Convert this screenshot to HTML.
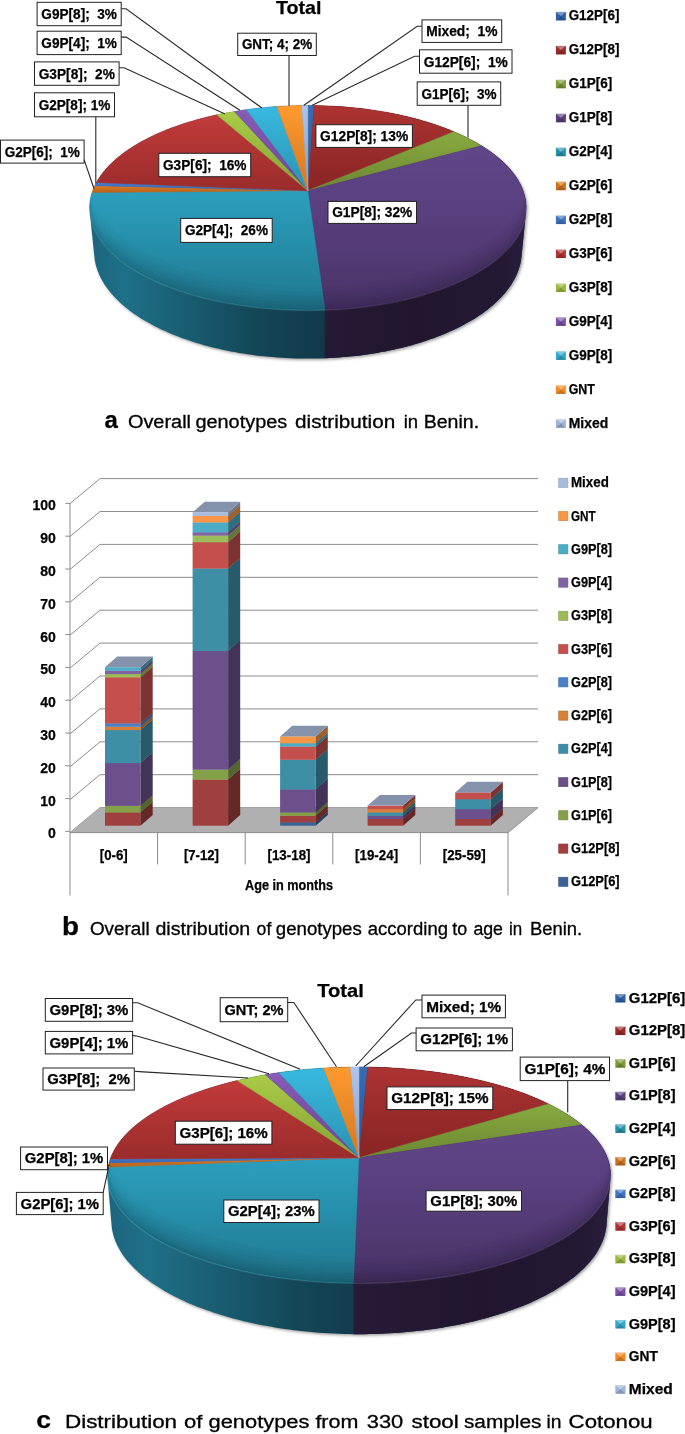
<!DOCTYPE html>
<html lang="en">
<head>
<meta charset="utf-8">
<title>Genotype distribution figures</title>
<style>
html,body{margin:0;padding:0;background:#fff;}
body{width:685px;height:1434px;overflow:hidden;}
svg{display:block;font-family:"Liberation Sans",sans-serif;}
</style>
</head>
<body>
<svg width="685" height="1434" viewBox="0 0 685 1434">
<defs>
<filter id="blur" x="-5%" y="-5%" width="110%" height="110%"><feGaussianBlur stdDeviation="1.6"/></filter>
<linearGradient id="p1sh" x1="0" y1="0" x2="0" y2="1"><stop offset="0" stop-color="#fff" stop-opacity="0.02"/><stop offset="0.5" stop-color="#000" stop-opacity="0"/><stop offset="1" stop-color="#000" stop-opacity="0.05"/></linearGradient>
<linearGradient id="p1sT" gradientUnits="userSpaceOnUse" x1="89.6" y1="0" x2="325.9" y2="0"><stop offset="0" stop-color="#1c667e"/><stop offset="0.15" stop-color="#1e7088"/><stop offset="0.45" stop-color="#185a6e"/><stop offset="0.72" stop-color="#134656"/><stop offset="1" stop-color="#11394a"/></linearGradient>
<linearGradient id="p1sP" gradientUnits="userSpaceOnUse" x1="317.9" y1="0" x2="526.2" y2="0"><stop offset="0" stop-color="#261a37"/><stop offset="0.45" stop-color="#21162e"/><stop offset="0.9" stop-color="#241934"/><stop offset="1" stop-color="#2a1e3f"/></linearGradient>
<clipPath id="p1cl"><polygon points="327.4,9.7 735,9.7 735,609.7 322.5,609.7"/></clipPath>
<linearGradient id="p1g0" x1="0" y1="0" x2="0" y2="1"><stop offset="0" stop-color="#336bb5"/><stop offset="1" stop-color="#295590"/></linearGradient>
<linearGradient id="p1g1" x1="0" y1="0" x2="0" y2="1"><stop offset="0" stop-color="#ac2f2f"/><stop offset="1" stop-color="#892525"/></linearGradient>
<linearGradient id="p1g2" x1="0" y1="0" x2="0" y2="1"><stop offset="0" stop-color="#88aa3f"/><stop offset="1" stop-color="#6d8832"/></linearGradient>
<linearGradient id="p1g3" x1="0" y1="0" x2="0" y2="1"><stop offset="0" stop-color="#614589"/><stop offset="1" stop-color="#4d376e"/></linearGradient>
<linearGradient id="p1g4" x1="0" y1="0" x2="0" y2="1"><stop offset="0" stop-color="#2b9fbe"/><stop offset="1" stop-color="#227f97"/></linearGradient>
<linearGradient id="p1g5" x1="0" y1="0" x2="0" y2="1"><stop offset="0" stop-color="#e37b22"/><stop offset="1" stop-color="#b5621b"/></linearGradient>
<linearGradient id="p1g6" x1="0" y1="0" x2="0" y2="1"><stop offset="0" stop-color="#457ed6"/><stop offset="1" stop-color="#3765ab"/></linearGradient>
<linearGradient id="p1g7" x1="0" y1="0" x2="0" y2="1"><stop offset="0" stop-color="#c23838"/><stop offset="1" stop-color="#9b2c2c"/></linearGradient>
<linearGradient id="p1g8" x1="0" y1="0" x2="0" y2="1"><stop offset="0" stop-color="#a8cb44"/><stop offset="1" stop-color="#86a236"/></linearGradient>
<linearGradient id="p1g9" x1="0" y1="0" x2="0" y2="1"><stop offset="0" stop-color="#8659b7"/><stop offset="1" stop-color="#6b4792"/></linearGradient>
<linearGradient id="p1g10" x1="0" y1="0" x2="0" y2="1"><stop offset="0" stop-color="#35b8df"/><stop offset="1" stop-color="#2b93b2"/></linearGradient>
<linearGradient id="p1g11" x1="0" y1="0" x2="0" y2="1"><stop offset="0" stop-color="#ff982b"/><stop offset="1" stop-color="#d37922"/></linearGradient>
<linearGradient id="p1g12" x1="0" y1="0" x2="0" y2="1"><stop offset="0" stop-color="#adc4f0"/><stop offset="1" stop-color="#8a9dbf"/></linearGradient>
<clipPath id="p1ct"><ellipse cx="307.9" cy="207.8" rx="218.3" ry="102.2"/></clipPath>
<linearGradient id="p2sh" x1="0" y1="0" x2="0" y2="1"><stop offset="0" stop-color="#fff" stop-opacity="0.02"/><stop offset="0.5" stop-color="#000" stop-opacity="0"/><stop offset="1" stop-color="#000" stop-opacity="0.05"/></linearGradient>
<linearGradient id="p2sT" gradientUnits="userSpaceOnUse" x1="107.5" y1="0" x2="377" y2="0"><stop offset="0" stop-color="#1c667e"/><stop offset="0.15" stop-color="#1e7088"/><stop offset="0.45" stop-color="#185a6e"/><stop offset="0.72" stop-color="#134656"/><stop offset="1" stop-color="#11394a"/></linearGradient>
<linearGradient id="p2sP" gradientUnits="userSpaceOnUse" x1="369" y1="0" x2="610.5" y2="0"><stop offset="0" stop-color="#261a37"/><stop offset="0.45" stop-color="#21162e"/><stop offset="0.9" stop-color="#241934"/><stop offset="1" stop-color="#2a1e3f"/></linearGradient>
<clipPath id="p2cl"><polygon points="352.8,982.9 735,982.9 735,1582.9 354,1582.9"/></clipPath>
<linearGradient id="p2g0" x1="0" y1="0" x2="0" y2="1"><stop offset="0" stop-color="#336bb5"/><stop offset="1" stop-color="#295590"/></linearGradient>
<linearGradient id="p2g1" x1="0" y1="0" x2="0" y2="1"><stop offset="0" stop-color="#ac2f2f"/><stop offset="1" stop-color="#892525"/></linearGradient>
<linearGradient id="p2g2" x1="0" y1="0" x2="0" y2="1"><stop offset="0" stop-color="#88aa3f"/><stop offset="1" stop-color="#6d8832"/></linearGradient>
<linearGradient id="p2g3" x1="0" y1="0" x2="0" y2="1"><stop offset="0" stop-color="#614589"/><stop offset="1" stop-color="#4d376e"/></linearGradient>
<linearGradient id="p2g4" x1="0" y1="0" x2="0" y2="1"><stop offset="0" stop-color="#2b9fbe"/><stop offset="1" stop-color="#227f97"/></linearGradient>
<linearGradient id="p2g5" x1="0" y1="0" x2="0" y2="1"><stop offset="0" stop-color="#e37b22"/><stop offset="1" stop-color="#b5621b"/></linearGradient>
<linearGradient id="p2g6" x1="0" y1="0" x2="0" y2="1"><stop offset="0" stop-color="#457ed6"/><stop offset="1" stop-color="#3765ab"/></linearGradient>
<linearGradient id="p2g7" x1="0" y1="0" x2="0" y2="1"><stop offset="0" stop-color="#c23838"/><stop offset="1" stop-color="#9b2c2c"/></linearGradient>
<linearGradient id="p2g8" x1="0" y1="0" x2="0" y2="1"><stop offset="0" stop-color="#a8cb44"/><stop offset="1" stop-color="#86a236"/></linearGradient>
<linearGradient id="p2g9" x1="0" y1="0" x2="0" y2="1"><stop offset="0" stop-color="#8659b7"/><stop offset="1" stop-color="#6b4792"/></linearGradient>
<linearGradient id="p2g10" x1="0" y1="0" x2="0" y2="1"><stop offset="0" stop-color="#35b8df"/><stop offset="1" stop-color="#2b93b2"/></linearGradient>
<linearGradient id="p2g11" x1="0" y1="0" x2="0" y2="1"><stop offset="0" stop-color="#ff982b"/><stop offset="1" stop-color="#d37922"/></linearGradient>
<linearGradient id="p2g12" x1="0" y1="0" x2="0" y2="1"><stop offset="0" stop-color="#adc4f0"/><stop offset="1" stop-color="#8a9dbf"/></linearGradient>
<clipPath id="p2ct"><ellipse cx="359" cy="1175" rx="251.5" ry="108"/></clipPath>
</defs>
<rect width="685" height="1434" fill="#fff"/>
<g id="p1">
<polygon fill="#000" fill-opacity="0.38" filter="url(#blur)" transform="translate(1.5,1.5)" points="89.7,206.7 89.7,204.9 89.9,203.1 90.1,201.3 90.4,199.5 90.7,197.7 91.1,195.9 91.6,194.2 92.1,192.4 92.7,190.7 93.4,189 94.1,187.2 94.8,185.5 95.7,183.8 96.6,182.2 97.5,180.5 98.6,178.8 99.6,177.2 100.8,175.6 101.9,173.9 103.2,172.3 104.5,170.7 105.8,169.2 107.2,167.6 108.6,166 110.1,164.5 111.7,163 113.3,161.5 114.9,160 116.6,158.5 118.3,157.1 120.1,155.7 121.9,154.2 123.8,152.8 125.7,151.5 127.7,150.1 129.7,148.8 131.7,147.4 133.8,146.1 135.9,144.8 138,143.6 140.2,142.3 142.4,141.1 144.7,139.9 147,138.7 149.3,137.5 151.7,136.3 154.1,135.2 156.6,134.1 159,133 161.5,131.9 164,130.9 166.6,129.8 169.2,128.8 171.8,127.8 174.4,126.9 177.1,125.9 179.8,125 182.5,124.1 185.2,123.2 188,122.3 190.8,121.5 193.6,120.7 196.4,119.8 199.3,119.1 202.2,118.3 205.1,117.6 208,116.8 210.9,116.2 213.9,115.5 216.8,114.8 219.8,114.2 222.8,113.6 225.9,113 228.9,112.4 231.9,111.9 235,111.4 238.1,110.9 241.2,110.4 244.3,110 247.4,109.5 250.5,109.1 253.6,108.7 256.8,108.3 259.9,108 263.1,107.7 266.3,107.4 269.4,107.1 272.6,106.8 275.8,106.6 279,106.4 282.2,106.2 285.4,106 288.6,105.9 291.8,105.8 295,105.7 298.2,105.6 301.5,105.5 304.7,105.5 307.9,105.5 311.1,105.5 314.3,105.5 317.6,105.6 320.8,105.7 324,105.8 327.2,105.9 330.4,106 333.6,106.2 336.8,106.4 340,106.6 343.2,106.8 346.4,107.1 349.5,107.4 352.7,107.7 355.9,108 359,108.3 362.2,108.7 365.3,109.1 368.4,109.5 371.5,110 374.6,110.4 377.7,110.9 380.8,111.4 383.9,111.9 386.9,112.4 389.9,113 393,113.6 396,114.2 398.9,114.8 401.9,115.5 404.9,116.2 407.8,116.8 410.7,117.6 413.6,118.3 416.5,119.1 419.4,119.8 422.2,120.7 425,121.5 427.8,122.3 430.6,123.2 433.3,124.1 436,125 438.7,125.9 441.4,126.9 444,127.8 446.6,128.8 449.2,129.8 451.8,130.9 454.3,131.9 456.8,133 459.2,134.1 461.7,135.2 464.1,136.3 466.5,137.5 468.8,138.7 471.1,139.9 473.4,141.1 475.6,142.3 477.8,143.6 479.9,144.8 482,146.1 484.1,147.4 486.1,148.8 488.1,150.1 490.1,151.5 492,152.8 493.9,154.2 495.7,155.7 497.5,157.1 499.2,158.5 500.9,160 502.5,161.5 504.1,163 505.7,164.5 507.2,166 508.6,167.6 510,169.2 511.3,170.7 512.6,172.3 513.9,173.9 515,175.6 516.2,177.2 517.2,178.8 518.2,180.5 519.2,182.2 520.1,183.8 521,185.5 521.7,187.2 522.4,189 523.1,190.7 523.7,192.4 524.2,194.2 524.7,195.9 525.1,197.7 525.4,199.5 525.7,201.3 525.9,203.1 526.1,204.9 526.1,206.7 526.1,208.5 526.1,210.3 526,212.1 521.5,256.2 521.3,258.1 521.1,260 520.7,261.9 520.3,263.9 519.8,265.8 519.2,267.7 518.6,269.6 517.9,271.5 517.1,273.5 516.3,275.4 515.4,277.3 514.4,279.2 513.3,281.1 512.2,283 511,284.9 509.7,286.8 508.3,288.7 506.9,290.6 505.4,292.4 503.8,294.3 502.1,296.2 500.4,298 498.6,299.8 496.8,301.6 494.8,303.4 492.8,305.2 490.7,307 488.5,308.7 486.3,310.5 484,312.2 481.6,313.9 479.1,315.6 476.6,317.2 474,318.9 471.3,320.5 468.6,322.1 465.8,323.6 462.9,325.2 460,326.7 457,328.2 453.9,329.7 450.8,331.1 447.6,332.5 444.4,333.9 441.1,335.2 437.7,336.6 434.3,337.9 430.8,339.1 427.3,340.3 423.7,341.5 420,342.7 416.3,343.8 412.6,344.9 408.8,345.9 404.9,346.9 401.1,347.9 397.1,348.8 393.2,349.7 389.2,350.6 385.1,351.4 381,352.1 376.9,352.9 372.8,353.6 368.6,354.2 364.4,354.8 360.1,355.4 355.9,355.9 351.6,356.3 347.3,356.8 342.9,357.1 338.6,357.5 334.2,357.8 329.9,358 325.5,358.2 321.1,358.4 316.7,358.5 312.3,358.6 307.9,358.6 303.5,358.6 299.1,358.5 294.7,358.4 290.3,358.2 285.9,358 281.6,357.8 277.2,357.5 272.9,357.1 268.5,356.8 264.2,356.3 259.9,355.9 255.7,355.4 251.4,354.8 247.2,354.2 243.1,353.6 238.9,352.9 234.8,352.1 230.7,351.4 226.6,350.6 222.6,349.7 218.7,348.8 214.7,347.9 210.8,346.9 207,345.9 203.2,344.9 199.5,343.8 195.8,342.7 192.1,341.5 188.5,340.3 185,339.1 181.5,337.9 178.1,336.6 174.7,335.2 171.4,333.9 168.2,332.5 165,331.1 161.8,329.7 158.8,328.2 155.8,326.7 152.8,325.2 150,323.6 147.2,322.1 144.5,320.5 141.8,318.9 139.2,317.2 136.7,315.6 134.2,313.9 131.8,312.2 129.5,310.5 127.3,308.7 125.1,307 123,305.2 121,303.4 119,301.6 117.2,299.8 115.4,298 113.7,296.2 112,294.3 110.4,292.4 108.9,290.6 107.5,288.7 106.1,286.8 104.8,284.9 103.6,283 102.5,281.1 101.4,279.2 100.4,277.3 99.5,275.4 98.7,273.5 97.9,271.5 97.2,269.6 96.6,267.7 96,265.8 95.5,263.9 95.1,261.9 94.7,260 94.5,258.1 94.3,256.2 89.8,212.1 89.7,210.3 89.7,208.5"/>
<polygon fill="url(#p1sT)" points="89.7,206.7 89.7,204.9 89.9,203.1 90.1,201.3 90.4,199.5 90.7,197.7 91.1,195.9 91.6,194.2 92.1,192.4 92.7,190.7 93.4,189 94.1,187.2 94.8,185.5 95.7,183.8 96.6,182.2 97.5,180.5 98.6,178.8 99.6,177.2 100.8,175.6 101.9,173.9 103.2,172.3 104.5,170.7 105.8,169.2 107.2,167.6 108.6,166 110.1,164.5 111.7,163 113.3,161.5 114.9,160 116.6,158.5 118.3,157.1 120.1,155.7 121.9,154.2 123.8,152.8 125.7,151.5 127.7,150.1 129.7,148.8 131.7,147.4 133.8,146.1 135.9,144.8 138,143.6 140.2,142.3 142.4,141.1 144.7,139.9 147,138.7 149.3,137.5 151.7,136.3 154.1,135.2 156.6,134.1 159,133 161.5,131.9 164,130.9 166.6,129.8 169.2,128.8 171.8,127.8 174.4,126.9 177.1,125.9 179.8,125 182.5,124.1 185.2,123.2 188,122.3 190.8,121.5 193.6,120.7 196.4,119.8 199.3,119.1 202.2,118.3 205.1,117.6 208,116.8 210.9,116.2 213.9,115.5 216.8,114.8 219.8,114.2 222.8,113.6 225.9,113 228.9,112.4 231.9,111.9 235,111.4 238.1,110.9 241.2,110.4 244.3,110 247.4,109.5 250.5,109.1 253.6,108.7 256.8,108.3 259.9,108 263.1,107.7 266.3,107.4 269.4,107.1 272.6,106.8 275.8,106.6 279,106.4 282.2,106.2 285.4,106 288.6,105.9 291.8,105.8 295,105.7 298.2,105.6 301.5,105.5 304.7,105.5 307.9,105.5 311.1,105.5 314.3,105.5 317.6,105.6 320.8,105.7 324,105.8 327.2,105.9 330.4,106 333.6,106.2 336.8,106.4 340,106.6 343.2,106.8 346.4,107.1 349.5,107.4 352.7,107.7 355.9,108 359,108.3 362.2,108.7 365.3,109.1 368.4,109.5 371.5,110 374.6,110.4 377.7,110.9 380.8,111.4 383.9,111.9 386.9,112.4 389.9,113 393,113.6 396,114.2 398.9,114.8 401.9,115.5 404.9,116.2 407.8,116.8 410.7,117.6 413.6,118.3 416.5,119.1 419.4,119.8 422.2,120.7 425,121.5 427.8,122.3 430.6,123.2 433.3,124.1 436,125 438.7,125.9 441.4,126.9 444,127.8 446.6,128.8 449.2,129.8 451.8,130.9 454.3,131.9 456.8,133 459.2,134.1 461.7,135.2 464.1,136.3 466.5,137.5 468.8,138.7 471.1,139.9 473.4,141.1 475.6,142.3 477.8,143.6 479.9,144.8 482,146.1 484.1,147.4 486.1,148.8 488.1,150.1 490.1,151.5 492,152.8 493.9,154.2 495.7,155.7 497.5,157.1 499.2,158.5 500.9,160 502.5,161.5 504.1,163 505.7,164.5 507.2,166 508.6,167.6 510,169.2 511.3,170.7 512.6,172.3 513.9,173.9 515,175.6 516.2,177.2 517.2,178.8 518.2,180.5 519.2,182.2 520.1,183.8 521,185.5 521.7,187.2 522.4,189 523.1,190.7 523.7,192.4 524.2,194.2 524.7,195.9 525.1,197.7 525.4,199.5 525.7,201.3 525.9,203.1 526.1,204.9 526.1,206.7 526.1,208.5 526.1,210.3 526,212.1 521.5,256.2 521.3,258.1 521.1,260 520.7,261.9 520.3,263.9 519.8,265.8 519.2,267.7 518.6,269.6 517.9,271.5 517.1,273.5 516.3,275.4 515.4,277.3 514.4,279.2 513.3,281.1 512.2,283 511,284.9 509.7,286.8 508.3,288.7 506.9,290.6 505.4,292.4 503.8,294.3 502.1,296.2 500.4,298 498.6,299.8 496.8,301.6 494.8,303.4 492.8,305.2 490.7,307 488.5,308.7 486.3,310.5 484,312.2 481.6,313.9 479.1,315.6 476.6,317.2 474,318.9 471.3,320.5 468.6,322.1 465.8,323.6 462.9,325.2 460,326.7 457,328.2 453.9,329.7 450.8,331.1 447.6,332.5 444.4,333.9 441.1,335.2 437.7,336.6 434.3,337.9 430.8,339.1 427.3,340.3 423.7,341.5 420,342.7 416.3,343.8 412.6,344.9 408.8,345.9 404.9,346.9 401.1,347.9 397.1,348.8 393.2,349.7 389.2,350.6 385.1,351.4 381,352.1 376.9,352.9 372.8,353.6 368.6,354.2 364.4,354.8 360.1,355.4 355.9,355.9 351.6,356.3 347.3,356.8 342.9,357.1 338.6,357.5 334.2,357.8 329.9,358 325.5,358.2 321.1,358.4 316.7,358.5 312.3,358.6 307.9,358.6 303.5,358.6 299.1,358.5 294.7,358.4 290.3,358.2 285.9,358 281.6,357.8 277.2,357.5 272.9,357.1 268.5,356.8 264.2,356.3 259.9,355.9 255.7,355.4 251.4,354.8 247.2,354.2 243.1,353.6 238.9,352.9 234.8,352.1 230.7,351.4 226.6,350.6 222.6,349.7 218.7,348.8 214.7,347.9 210.8,346.9 207,345.9 203.2,344.9 199.5,343.8 195.8,342.7 192.1,341.5 188.5,340.3 185,339.1 181.5,337.9 178.1,336.6 174.7,335.2 171.4,333.9 168.2,332.5 165,331.1 161.8,329.7 158.8,328.2 155.8,326.7 152.8,325.2 150,323.6 147.2,322.1 144.5,320.5 141.8,318.9 139.2,317.2 136.7,315.6 134.2,313.9 131.8,312.2 129.5,310.5 127.3,308.7 125.1,307 123,305.2 121,303.4 119,301.6 117.2,299.8 115.4,298 113.7,296.2 112,294.3 110.4,292.4 108.9,290.6 107.5,288.7 106.1,286.8 104.8,284.9 103.6,283 102.5,281.1 101.4,279.2 100.4,277.3 99.5,275.4 98.7,273.5 97.9,271.5 97.2,269.6 96.6,267.7 96,265.8 95.5,263.9 95.1,261.9 94.7,260 94.5,258.1 94.3,256.2 89.8,212.1 89.7,210.3 89.7,208.5"/>
<polygon fill="url(#p1sP)" clip-path="url(#p1cl)" points="89.7,206.7 89.7,204.9 89.9,203.1 90.1,201.3 90.4,199.5 90.7,197.7 91.1,195.9 91.6,194.2 92.1,192.4 92.7,190.7 93.4,189 94.1,187.2 94.8,185.5 95.7,183.8 96.6,182.2 97.5,180.5 98.6,178.8 99.6,177.2 100.8,175.6 101.9,173.9 103.2,172.3 104.5,170.7 105.8,169.2 107.2,167.6 108.6,166 110.1,164.5 111.7,163 113.3,161.5 114.9,160 116.6,158.5 118.3,157.1 120.1,155.7 121.9,154.2 123.8,152.8 125.7,151.5 127.7,150.1 129.7,148.8 131.7,147.4 133.8,146.1 135.9,144.8 138,143.6 140.2,142.3 142.4,141.1 144.7,139.9 147,138.7 149.3,137.5 151.7,136.3 154.1,135.2 156.6,134.1 159,133 161.5,131.9 164,130.9 166.6,129.8 169.2,128.8 171.8,127.8 174.4,126.9 177.1,125.9 179.8,125 182.5,124.1 185.2,123.2 188,122.3 190.8,121.5 193.6,120.7 196.4,119.8 199.3,119.1 202.2,118.3 205.1,117.6 208,116.8 210.9,116.2 213.9,115.5 216.8,114.8 219.8,114.2 222.8,113.6 225.9,113 228.9,112.4 231.9,111.9 235,111.4 238.1,110.9 241.2,110.4 244.3,110 247.4,109.5 250.5,109.1 253.6,108.7 256.8,108.3 259.9,108 263.1,107.7 266.3,107.4 269.4,107.1 272.6,106.8 275.8,106.6 279,106.4 282.2,106.2 285.4,106 288.6,105.9 291.8,105.8 295,105.7 298.2,105.6 301.5,105.5 304.7,105.5 307.9,105.5 311.1,105.5 314.3,105.5 317.6,105.6 320.8,105.7 324,105.8 327.2,105.9 330.4,106 333.6,106.2 336.8,106.4 340,106.6 343.2,106.8 346.4,107.1 349.5,107.4 352.7,107.7 355.9,108 359,108.3 362.2,108.7 365.3,109.1 368.4,109.5 371.5,110 374.6,110.4 377.7,110.9 380.8,111.4 383.9,111.9 386.9,112.4 389.9,113 393,113.6 396,114.2 398.9,114.8 401.9,115.5 404.9,116.2 407.8,116.8 410.7,117.6 413.6,118.3 416.5,119.1 419.4,119.8 422.2,120.7 425,121.5 427.8,122.3 430.6,123.2 433.3,124.1 436,125 438.7,125.9 441.4,126.9 444,127.8 446.6,128.8 449.2,129.8 451.8,130.9 454.3,131.9 456.8,133 459.2,134.1 461.7,135.2 464.1,136.3 466.5,137.5 468.8,138.7 471.1,139.9 473.4,141.1 475.6,142.3 477.8,143.6 479.9,144.8 482,146.1 484.1,147.4 486.1,148.8 488.1,150.1 490.1,151.5 492,152.8 493.9,154.2 495.7,155.7 497.5,157.1 499.2,158.5 500.9,160 502.5,161.5 504.1,163 505.7,164.5 507.2,166 508.6,167.6 510,169.2 511.3,170.7 512.6,172.3 513.9,173.9 515,175.6 516.2,177.2 517.2,178.8 518.2,180.5 519.2,182.2 520.1,183.8 521,185.5 521.7,187.2 522.4,189 523.1,190.7 523.7,192.4 524.2,194.2 524.7,195.9 525.1,197.7 525.4,199.5 525.7,201.3 525.9,203.1 526.1,204.9 526.1,206.7 526.1,208.5 526.1,210.3 526,212.1 521.5,256.2 521.3,258.1 521.1,260 520.7,261.9 520.3,263.9 519.8,265.8 519.2,267.7 518.6,269.6 517.9,271.5 517.1,273.5 516.3,275.4 515.4,277.3 514.4,279.2 513.3,281.1 512.2,283 511,284.9 509.7,286.8 508.3,288.7 506.9,290.6 505.4,292.4 503.8,294.3 502.1,296.2 500.4,298 498.6,299.8 496.8,301.6 494.8,303.4 492.8,305.2 490.7,307 488.5,308.7 486.3,310.5 484,312.2 481.6,313.9 479.1,315.6 476.6,317.2 474,318.9 471.3,320.5 468.6,322.1 465.8,323.6 462.9,325.2 460,326.7 457,328.2 453.9,329.7 450.8,331.1 447.6,332.5 444.4,333.9 441.1,335.2 437.7,336.6 434.3,337.9 430.8,339.1 427.3,340.3 423.7,341.5 420,342.7 416.3,343.8 412.6,344.9 408.8,345.9 404.9,346.9 401.1,347.9 397.1,348.8 393.2,349.7 389.2,350.6 385.1,351.4 381,352.1 376.9,352.9 372.8,353.6 368.6,354.2 364.4,354.8 360.1,355.4 355.9,355.9 351.6,356.3 347.3,356.8 342.9,357.1 338.6,357.5 334.2,357.8 329.9,358 325.5,358.2 321.1,358.4 316.7,358.5 312.3,358.6 307.9,358.6 303.5,358.6 299.1,358.5 294.7,358.4 290.3,358.2 285.9,358 281.6,357.8 277.2,357.5 272.9,357.1 268.5,356.8 264.2,356.3 259.9,355.9 255.7,355.4 251.4,354.8 247.2,354.2 243.1,353.6 238.9,352.9 234.8,352.1 230.7,351.4 226.6,350.6 222.6,349.7 218.7,348.8 214.7,347.9 210.8,346.9 207,345.9 203.2,344.9 199.5,343.8 195.8,342.7 192.1,341.5 188.5,340.3 185,339.1 181.5,337.9 178.1,336.6 174.7,335.2 171.4,333.9 168.2,332.5 165,331.1 161.8,329.7 158.8,328.2 155.8,326.7 152.8,325.2 150,323.6 147.2,322.1 144.5,320.5 141.8,318.9 139.2,317.2 136.7,315.6 134.2,313.9 131.8,312.2 129.5,310.5 127.3,308.7 125.1,307 123,305.2 121,303.4 119,301.6 117.2,299.8 115.4,298 113.7,296.2 112,294.3 110.4,292.4 108.9,290.6 107.5,288.7 106.1,286.8 104.8,284.9 103.6,283 102.5,281.1 101.4,279.2 100.4,277.3 99.5,275.4 98.7,273.5 97.9,271.5 97.2,269.6 96.6,267.7 96,265.8 95.5,263.9 95.1,261.9 94.7,260 94.5,258.1 94.3,256.2 89.8,212.1 89.7,210.3 89.7,208.5"/>
<polygon fill="url(#p1g0)" stroke="#2f62a6" stroke-width="0.5" stroke-linejoin="round" points="307.9,190.7 307.9,105.5 311,105.5 314.2,105.6"/>
<polygon fill="url(#p1g1)" stroke="#9e2b2b" stroke-width="0.5" stroke-linejoin="round" points="307.9,190.7 314.2,105.6 318.9,105.6 323.6,105.8 328.3,106 333,106.2 337.6,106.5 342.3,106.8 347,107.2 351.6,107.6 356.2,108 360.8,108.6 365.4,109.1 370,109.7 374.5,110.4 379.1,111.1 383.5,111.8 388,112.6 392.4,113.5 396.8,114.4 401.2,115.3 405.5,116.3 409.8,117.3 414,118.4 418.2,119.5 422.4,120.7 426.5,121.9 430.6,123.2 434.6,124.5 438.5,125.8 442.4,127.2 446.2,128.7 450,130.2 453.7,131.7"/>
<polygon fill="url(#p1g2)" stroke="#7d9c3a" stroke-width="0.5" stroke-linejoin="round" points="307.9,190.7 453.7,131.7 457.4,133.3 461.1,134.9 464.6,136.6 468.1,138.3 471.6,140.1 474.9,141.9 478.1,143.8 481.3,145.7"/>
<polygon fill="url(#p1g3)" stroke="#593f7e" stroke-width="0.5" stroke-linejoin="round" points="307.9,190.7 481.3,145.7 484.4,147.6 487.4,149.6 490.3,151.6 493.1,153.7 495.8,155.8 498.4,157.9 500.9,160.1 503.4,162.3 505.7,164.5 507.9,166.8 509.9,169.1 511.9,171.4 513.8,173.8 515.5,176.2 517.1,178.6 518.6,181.1 520,183.6 521.2,186.1 522.3,188.6 523.3,191.2 524.1,193.8 524.8,196.4 525.4,199 525.8,201.7 526,204.3 526.2,207 526.1,209.7 525.9,212.4 525.6,215.1 525.1,217.8 524.5,220.5 523.6,223.2 522.7,225.9 521.6,228.6 520.3,231.4 518.8,234.1 517.2,236.8 515.4,239.4 513.5,242.1 511.3,244.8 509.1,247.4 506.6,250 504,252.6 501.2,255.2 498.3,257.8 495.2,260.3 491.9,262.8 488.5,265.2 484.9,267.6 481.1,270 477.2,272.3 473.1,274.6 468.9,276.8 464.5,279 460,281.1 455.3,283.1 450.5,285.2 445.6,287.1 440.5,289 435.3,290.8 429.9,292.5 424.5,294.2 418.9,295.8 413.2,297.3 407.4,298.8 401.5,300.1 395.5,301.4 389.4,302.6 383.2,303.7 377,304.7 370.7,305.7 364.3,306.5 357.8,307.3 351.3,308 344.8,308.5 338.2,309 331.6,309.4 324.9,309.7"/>
<polygon fill="url(#p1g4)" stroke="#2792ae" stroke-width="0.5" stroke-linejoin="round" points="307.9,190.7 324.9,309.7 318.2,309.9 311.4,310 304.7,310 298,309.9 291.2,309.7 284.5,309.4 277.8,309 271.2,308.5 264.5,308 258,307.3 251.5,306.5 245,305.7 238.6,304.7 232.3,303.7 226.1,302.5 219.9,301.3 213.9,300 207.9,298.6 202.1,297.2 196.3,295.6 190.7,294 185.2,292.3 179.8,290.5 174.6,288.7 169.5,286.8 164.5,284.8 159.6,282.8 154.9,280.7 150.4,278.5 146,276.3 141.8,274.1 137.7,271.8 133.8,269.4 130,267 126.4,264.6 123,262.1 119.7,259.6 116.6,257 113.7,254.4 111,251.8 108.4,249.2 106,246.5 103.7,243.9 101.6,241.2 99.7,238.5 98,235.8 96.4,233 95,230.3 93.8,227.5 92.7,224.8 91.8,222.1 91,219.3 90.5,216.6 90,213.8 89.8,211.1 89.6,208.4 89.7,205.7 89.9,203 90.2,200.3 90.7,197.7 91.3,195 92.1,192.4"/>
<polygon fill="url(#p1g5)" stroke="#d0711f" stroke-width="0.5" stroke-linejoin="round" points="307.9,190.7 92.1,192.4 92.9,190.2 93.8,187.9 94.8,185.7"/>
<polygon fill="url(#p1g6)" stroke="#3f74c4" stroke-width="0.5" stroke-linejoin="round" points="307.9,190.7 94.8,185.7 95.6,184.1 96.4,182.5"/>
<polygon fill="url(#p1g7)" stroke="#b23333" stroke-width="0.5" stroke-linejoin="round" points="307.9,190.7 96.4,182.5 97.8,180 99.4,177.5 101.1,175.1 102.8,172.7 104.7,170.4 106.8,168.1 108.9,165.8 111.1,163.5 113.5,161.3 115.9,159.1 118.5,157 121.1,154.9 123.9,152.8 126.7,150.8 129.6,148.8 132.7,146.8 135.8,144.9 139,143 142.2,141.2 145.6,139.4 149,137.7 152.5,136 156.1,134.3 159.7,132.7 163.5,131.1 167.2,129.6 171.1,128.1 175,126.7 178.9,125.3 182.9,123.9 187,122.6 191.1,121.4 195.3,120.2 199.5,119 203.8,117.9 208.1,116.8 212.4,115.8 216.8,114.8"/>
<polygon fill="url(#p1g8)" stroke="#9aba3e" stroke-width="0.5" stroke-linejoin="round" points="307.9,190.7 216.8,114.8 221.1,113.9 225.5,113.1 229.9,112.3 234.3,111.5"/>
<polygon fill="url(#p1g9)" stroke="#7b52a8" stroke-width="0.5" stroke-linejoin="round" points="307.9,190.7 234.3,111.5 238.3,110.9 242.2,110.2 246.2,109.7"/>
<polygon fill="url(#p1g10)" stroke="#31a9cd" stroke-width="0.5" stroke-linejoin="round" points="307.9,190.7 246.2,109.7 250.6,109.1 254.9,108.6 259.2,108.1 263.6,107.6 268,107.2 272.4,106.9 276.8,106.6"/>
<polygon fill="url(#p1g11)" stroke="#f38b27" stroke-width="0.5" stroke-linejoin="round" points="307.9,190.7 276.8,106.6 280.9,106.3 285.1,106.1 289.2,105.9 293.3,105.7 297.5,105.6 301.6,105.6"/>
<polygon fill="url(#p1g12)" stroke="#9fb4dc" stroke-width="0.5" stroke-linejoin="round" points="307.9,190.7 301.6,105.6 304.8,105.5 307.9,105.5"/>
<ellipse cx="307.9" cy="207.8" rx="218.3" ry="102.2" fill="url(#p1sh)"/>
<g clip-path="url(#p1ct)" fill="#000" fill-rule="evenodd">
<path fill-opacity="0.03" d="M89.6,207.8a218.3,102.2 0 1,0 436.5,0a218.3,102.2 0 1,0 -436.5,0zM89.6,205.8a218.3,102.2 0 1,0 436.5,0a218.3,102.2 0 1,0 -436.5,0z"/>
<path fill-opacity="0.03" d="M89.6,207.8a218.3,102.2 0 1,0 436.5,0a218.3,102.2 0 1,0 -436.5,0zM89.6,203.8a218.3,102.2 0 1,0 436.5,0a218.3,102.2 0 1,0 -436.5,0z"/>
<path fill-opacity="0.028" d="M89.6,207.8a218.3,102.2 0 1,0 436.5,0a218.3,102.2 0 1,0 -436.5,0zM89.6,200.8a218.3,102.2 0 1,0 436.5,0a218.3,102.2 0 1,0 -436.5,0z"/>
<path fill-opacity="0.026" d="M89.6,207.8a218.3,102.2 0 1,0 436.5,0a218.3,102.2 0 1,0 -436.5,0zM89.6,197.8a218.3,102.2 0 1,0 436.5,0a218.3,102.2 0 1,0 -436.5,0z"/>
<path fill-opacity="0.024" d="M89.6,207.8a218.3,102.2 0 1,0 436.5,0a218.3,102.2 0 1,0 -436.5,0zM89.6,194.8a218.3,102.2 0 1,0 436.5,0a218.3,102.2 0 1,0 -436.5,0z"/>
<path fill-opacity="0.022" d="M89.6,207.8a218.3,102.2 0 1,0 436.5,0a218.3,102.2 0 1,0 -436.5,0zM89.6,190.8a218.3,102.2 0 1,0 436.5,0a218.3,102.2 0 1,0 -436.5,0z"/>
<path fill-opacity="0.02" d="M89.6,207.8a218.3,102.2 0 1,0 436.5,0a218.3,102.2 0 1,0 -436.5,0zM89.6,186.8a218.3,102.2 0 1,0 436.5,0a218.3,102.2 0 1,0 -436.5,0z"/>
<path fill-opacity="0.02" d="M89.6,207.8a218.3,102.2 0 1,0 436.5,0a218.3,102.2 0 1,0 -436.5,0zM89.6,181.8a218.3,102.2 0 1,0 436.5,0a218.3,102.2 0 1,0 -436.5,0z"/>
</g>
<polyline fill="none" stroke="#fff" stroke-opacity="0.08" stroke-width="1.4" points="526.2,208.4 526,212 525.6,215.7 524.9,219.3 523.9,223 522.6,226.7 521,230.4 519.1,234.1 517,237.7 514.5,241.4 511.7,245 508.6,248.6 505.2,252.1 501.4,255.6 497.4,259.1 493.1,262.5 488.5,265.8 483.6,269 478.4,272.2 472.9,275.3 467.1,278.3 461,281.2 454.7,284 448.1,286.7 441.3,289.3 434.2,291.7 426.9,294.1 419.4,296.3 411.6,298.3 403.7,300.2 395.6,302 387.3,303.6 378.9,305 370.3,306.3 361.6,307.5 352.8,308.4 344,309.2 335,309.8 326,310.2 317,310.5 307.9,310.6 298.8,310.5 289.8,310.2 280.8,309.8 271.8,309.2 263,308.4 254.2,307.5 245.5,306.3 236.9,305 228.5,303.6 220.2,302 212.1,300.2 204.2,298.3 196.4,296.3 188.9,294.1 181.6,291.7 174.5,289.3 167.7,286.7 161.1,284 154.8,281.2 148.7,278.3 142.9,275.3 137.4,272.2 132.2,269 127.3,265.8 122.7,262.5 118.4,259.1 114.4,255.6 110.6,252.1 107.2,248.6 104.1,245 101.3,241.4 98.8,237.7 96.7,234.1 94.8,230.4 93.2,226.7 91.9,223 90.9,219.3 90.2,215.7 89.8,212 89.6,208.4"/>
</g>
<text x="298.7" y="14.3" font-size="18.5" font-weight="bold" text-anchor="middle" fill="#000" textLength="45.5" lengthAdjust="spacingAndGlyphs" stroke="#000" stroke-width="0.25">Total</text>
<rect x="37.1" y="2.3" width="84.1" height="23.4" fill="#fff" stroke="#222" stroke-width="1"/>
<text x="41.3" y="19" font-size="14" font-weight="bold" text-anchor="start" fill="#000" textLength="75.7" lengthAdjust="spacingAndGlyphs" xml:space="preserve" stroke="#000" stroke-width="0.25">G9P[8];  3%</text>
<rect x="37.1" y="31.2" width="84.1" height="23.4" fill="#fff" stroke="#222" stroke-width="1"/>
<text x="41.3" y="47.9" font-size="14" font-weight="bold" text-anchor="start" fill="#000" textLength="75.7" lengthAdjust="spacingAndGlyphs" xml:space="preserve" stroke="#000" stroke-width="0.25">G9P[4];  1%</text>
<rect x="34.5" y="61.9" width="84.6" height="23.4" fill="#fff" stroke="#222" stroke-width="1"/>
<text x="38.7" y="78.6" font-size="14" font-weight="bold" text-anchor="start" fill="#000" textLength="76.2" lengthAdjust="spacingAndGlyphs" xml:space="preserve" stroke="#000" stroke-width="0.25">G3P[8];  2%</text>
<rect x="34.5" y="92.8" width="80" height="24" fill="#fff" stroke="#222" stroke-width="1"/>
<text x="38.7" y="109.8" font-size="14" font-weight="bold" text-anchor="start" fill="#000" textLength="71.6" lengthAdjust="spacingAndGlyphs" xml:space="preserve" stroke="#000" stroke-width="0.25">G2P[8]; 1%</text>
<rect x="0.5" y="140.1" width="83.6" height="23" fill="#fff" stroke="#222" stroke-width="1"/>
<text x="4.7" y="156.6" font-size="14" font-weight="bold" text-anchor="start" fill="#000" textLength="75.2" lengthAdjust="spacingAndGlyphs" xml:space="preserve" stroke="#000" stroke-width="0.25">G2P[6];  1%</text>
<rect x="237.7" y="33.2" width="78.6" height="22.3" fill="#fff" stroke="#222" stroke-width="1"/>
<text x="241.9" y="49.4" font-size="14" font-weight="bold" text-anchor="start" fill="#000" textLength="70.2" lengthAdjust="spacingAndGlyphs" xml:space="preserve" stroke="#000" stroke-width="0.25">GNT; 4; 2%</text>
<rect x="158.8" y="153.3" width="91.9" height="23.4" fill="#fff" stroke="#222" stroke-width="1"/>
<text x="163" y="170" font-size="14" font-weight="bold" text-anchor="start" fill="#000" textLength="83.5" lengthAdjust="spacingAndGlyphs" xml:space="preserve" stroke="#000" stroke-width="0.25">G3P[6];  16%</text>
<rect x="422" y="19.9" width="79.7" height="22.5" fill="#fff" stroke="#222" stroke-width="1"/>
<text x="426.2" y="36.2" font-size="14" font-weight="bold" text-anchor="start" fill="#000" textLength="71.3" lengthAdjust="spacingAndGlyphs" xml:space="preserve" stroke="#000" stroke-width="0.25">Mixed;  1%</text>
<rect x="419.5" y="49.8" width="92.5" height="23.4" fill="#fff" stroke="#222" stroke-width="1"/>
<text x="423.7" y="66.5" font-size="14" font-weight="bold" text-anchor="start" fill="#000" textLength="84.1" lengthAdjust="spacingAndGlyphs" xml:space="preserve" stroke="#000" stroke-width="0.25">G12P[6];  1%</text>
<rect x="417.2" y="81.9" width="83.5" height="23.4" fill="#fff" stroke="#222" stroke-width="1"/>
<text x="421.4" y="98.6" font-size="14" font-weight="bold" text-anchor="start" fill="#000" textLength="75.1" lengthAdjust="spacingAndGlyphs" xml:space="preserve" stroke="#000" stroke-width="0.25">G1P[6];  3%</text>
<rect x="315.9" y="124.7" width="96.5" height="22.7" fill="#fff" stroke="#222" stroke-width="1"/>
<text x="320.1" y="141.1" font-size="14" font-weight="bold" text-anchor="start" fill="#000" textLength="88.1" lengthAdjust="spacingAndGlyphs" xml:space="preserve" stroke="#000" stroke-width="0.25">G12P[8]; 13%</text>
<rect x="328" y="201.4" width="88.5" height="22" fill="#fff" stroke="#222" stroke-width="1"/>
<text x="332.2" y="217.4" font-size="14" font-weight="bold" text-anchor="start" fill="#000" textLength="80.1" lengthAdjust="spacingAndGlyphs" xml:space="preserve" stroke="#000" stroke-width="0.25">G1P[8]; 32%</text>
<rect x="180.7" y="218.4" width="91.5" height="24" fill="#fff" stroke="#222" stroke-width="1"/>
<text x="184.9" y="235.4" font-size="14" font-weight="bold" text-anchor="start" fill="#000" textLength="83.1" lengthAdjust="spacingAndGlyphs" xml:space="preserve" stroke="#000" stroke-width="0.25">G2P[4];  26%</text>
<polyline fill="none" stroke="#282828" stroke-width="1.1" points="121.2,8.8 126.1,8.8 261.8,108"/>
<polyline fill="none" stroke="#282828" stroke-width="1.1" points="121.2,37.1 126.1,37.1 239.9,110.2"/>
<polyline fill="none" stroke="#282828" stroke-width="1.1" points="119.1,67.7 124.1,67.7 225,113.9"/>
<polyline fill="none" stroke="#282828" stroke-width="1.1" points="95.8,116.8 95.8,183.5"/>
<polyline fill="none" stroke="#282828" stroke-width="1.1" points="84.1,159.6 94,188.8"/>
<polyline fill="none" stroke="#282828" stroke-width="1.1" points="289,55.5 289,106"/>
<polyline fill="none" stroke="#282828" stroke-width="1.1" points="422,26.3 417.2,26.3 303.9,105.3"/>
<polyline fill="none" stroke="#282828" stroke-width="1.1" points="419.5,56.2 414.6,56.2 312.2,105.3"/>
<polyline fill="none" stroke="#282828" stroke-width="1.1" points="468,105.3 468,137.5"/>
<rect x="555.9" y="11.9" width="10" height="8.5" fill="#2f62a6"/>
<polygon points="555.9,11.9 565.9,11.9 560.9,15.9" fill="#fff" fill-opacity="0.36"/>
<polygon points="555.9,20.4 565.9,20.4 560.9,15.9" fill="#000" fill-opacity="0.18"/>
<text x="568.7" y="20.4" font-size="14" font-weight="bold" text-anchor="start" fill="#000" textLength="50.7" lengthAdjust="spacingAndGlyphs" stroke="#000" stroke-width="0.25">G12P[6]</text>
<rect x="555.9" y="45.9" width="10" height="8.5" fill="#9e2b2b"/>
<polygon points="555.9,45.9 565.9,45.9 560.9,49.9" fill="#fff" fill-opacity="0.36"/>
<polygon points="555.9,54.4 565.9,54.4 560.9,49.9" fill="#000" fill-opacity="0.18"/>
<text x="568.7" y="54.4" font-size="14" font-weight="bold" text-anchor="start" fill="#000" textLength="50.7" lengthAdjust="spacingAndGlyphs" stroke="#000" stroke-width="0.25">G12P[8]</text>
<rect x="555.9" y="79.8" width="10" height="8.5" fill="#7d9c3a"/>
<polygon points="555.9,79.8 565.9,79.8 560.9,83.8" fill="#fff" fill-opacity="0.36"/>
<polygon points="555.9,88.3 565.9,88.3 560.9,83.8" fill="#000" fill-opacity="0.18"/>
<text x="568.7" y="88.3" font-size="14" font-weight="bold" text-anchor="start" fill="#000" textLength="43.5" lengthAdjust="spacingAndGlyphs" stroke="#000" stroke-width="0.25">G1P[6]</text>
<rect x="555.9" y="113.8" width="10" height="8.5" fill="#593f7e"/>
<polygon points="555.9,113.8 565.9,113.8 560.9,117.8" fill="#fff" fill-opacity="0.36"/>
<polygon points="555.9,122.2 565.9,122.2 560.9,117.8" fill="#000" fill-opacity="0.18"/>
<text x="568.7" y="122.2" font-size="14" font-weight="bold" text-anchor="start" fill="#000" textLength="43.5" lengthAdjust="spacingAndGlyphs" stroke="#000" stroke-width="0.25">G1P[8]</text>
<rect x="555.9" y="147.7" width="10" height="8.5" fill="#2792ae"/>
<polygon points="555.9,147.7 565.9,147.7 560.9,151.7" fill="#fff" fill-opacity="0.36"/>
<polygon points="555.9,156.2 565.9,156.2 560.9,151.7" fill="#000" fill-opacity="0.18"/>
<text x="568.7" y="156.2" font-size="14" font-weight="bold" text-anchor="start" fill="#000" textLength="43.5" lengthAdjust="spacingAndGlyphs" stroke="#000" stroke-width="0.25">G2P[4]</text>
<rect x="555.9" y="181.7" width="10" height="8.5" fill="#d0711f"/>
<polygon points="555.9,181.7 565.9,181.7 560.9,185.7" fill="#fff" fill-opacity="0.36"/>
<polygon points="555.9,190.2 565.9,190.2 560.9,185.7" fill="#000" fill-opacity="0.18"/>
<text x="568.7" y="190.2" font-size="14" font-weight="bold" text-anchor="start" fill="#000" textLength="43.5" lengthAdjust="spacingAndGlyphs" stroke="#000" stroke-width="0.25">G2P[6]</text>
<rect x="555.9" y="215.6" width="10" height="8.5" fill="#3f74c4"/>
<polygon points="555.9,215.6 565.9,215.6 560.9,219.6" fill="#fff" fill-opacity="0.36"/>
<polygon points="555.9,224.1 565.9,224.1 560.9,219.6" fill="#000" fill-opacity="0.18"/>
<text x="568.7" y="224.1" font-size="14" font-weight="bold" text-anchor="start" fill="#000" textLength="43.5" lengthAdjust="spacingAndGlyphs" stroke="#000" stroke-width="0.25">G2P[8]</text>
<rect x="555.9" y="249.6" width="10" height="8.5" fill="#b23333"/>
<polygon points="555.9,249.6 565.9,249.6 560.9,253.6" fill="#fff" fill-opacity="0.36"/>
<polygon points="555.9,258.1 565.9,258.1 560.9,253.6" fill="#000" fill-opacity="0.18"/>
<text x="568.7" y="258.1" font-size="14" font-weight="bold" text-anchor="start" fill="#000" textLength="43.5" lengthAdjust="spacingAndGlyphs" stroke="#000" stroke-width="0.25">G3P[6]</text>
<rect x="555.9" y="283.5" width="10" height="8.5" fill="#9aba3e"/>
<polygon points="555.9,283.5 565.9,283.5 560.9,287.5" fill="#fff" fill-opacity="0.36"/>
<polygon points="555.9,292 565.9,292 560.9,287.5" fill="#000" fill-opacity="0.18"/>
<text x="568.7" y="292" font-size="14" font-weight="bold" text-anchor="start" fill="#000" textLength="43.5" lengthAdjust="spacingAndGlyphs" stroke="#000" stroke-width="0.25">G3P[8]</text>
<rect x="555.9" y="317.4" width="10" height="8.5" fill="#7b52a8"/>
<polygon points="555.9,317.4 565.9,317.4 560.9,321.4" fill="#fff" fill-opacity="0.36"/>
<polygon points="555.9,325.9 565.9,325.9 560.9,321.4" fill="#000" fill-opacity="0.18"/>
<text x="568.7" y="325.9" font-size="14" font-weight="bold" text-anchor="start" fill="#000" textLength="43.5" lengthAdjust="spacingAndGlyphs" stroke="#000" stroke-width="0.25">G9P[4]</text>
<rect x="555.9" y="351.4" width="10" height="8.5" fill="#31a9cd"/>
<polygon points="555.9,351.4 565.9,351.4 560.9,355.4" fill="#fff" fill-opacity="0.36"/>
<polygon points="555.9,359.9 565.9,359.9 560.9,355.4" fill="#000" fill-opacity="0.18"/>
<text x="568.7" y="359.9" font-size="14" font-weight="bold" text-anchor="start" fill="#000" textLength="43.5" lengthAdjust="spacingAndGlyphs" stroke="#000" stroke-width="0.25">G9P[8]</text>
<rect x="555.9" y="385.4" width="10" height="8.5" fill="#f38b27"/>
<polygon points="555.9,385.4 565.9,385.4 560.9,389.4" fill="#fff" fill-opacity="0.36"/>
<polygon points="555.9,393.9 565.9,393.9 560.9,389.4" fill="#000" fill-opacity="0.18"/>
<text x="568.7" y="393.9" font-size="14" font-weight="bold" text-anchor="start" fill="#000" textLength="26.2" lengthAdjust="spacingAndGlyphs" stroke="#000" stroke-width="0.25">GNT</text>
<rect x="555.9" y="419.3" width="10" height="8.5" fill="#9fb4dc"/>
<polygon points="555.9,419.3 565.9,419.3 560.9,423.3" fill="#fff" fill-opacity="0.36"/>
<polygon points="555.9,427.8 565.9,427.8 560.9,423.3" fill="#000" fill-opacity="0.18"/>
<text x="568.7" y="427.8" font-size="14" font-weight="bold" text-anchor="start" fill="#000" textLength="39.5" lengthAdjust="spacingAndGlyphs" stroke="#000" stroke-width="0.25">Mixed</text>
<text x="104.6" y="428.4" font-size="24" font-weight="bold" text-anchor="start" fill="#000" stroke="#000" stroke-width="0.25">a</text>
<g id="p2">
<polygon fill="#000" fill-opacity="0.38" filter="url(#blur)" transform="translate(1.5,1.5)" points="107.5,1174.6 107.5,1172.7 107.6,1170.8 107.8,1168.9 108.1,1167 108.5,1165.1 108.9,1163.2 109.5,1161.4 110,1159.5 110.7,1157.7 111.4,1155.9 112.2,1154 113.1,1152.2 114,1150.4 115,1148.7 116.1,1146.9 117.3,1145.1 118.5,1143.4 119.8,1141.7 121.1,1139.9 122.5,1138.2 124,1136.5 125.5,1134.9 127.1,1133.2 128.7,1131.6 130.4,1129.9 132.2,1128.3 134,1126.7 135.9,1125.2 137.8,1123.6 139.8,1122 141.8,1120.5 143.9,1119 146,1117.5 148.2,1116.1 150.5,1114.6 152.8,1113.2 155.1,1111.8 157.5,1110.4 159.9,1109 162.4,1107.7 164.9,1106.3 167.5,1105 170.1,1103.7 172.7,1102.4 175.4,1101.2 178.1,1100 180.9,1098.8 183.7,1097.6 186.6,1096.4 189.4,1095.2 192.3,1094.1 195.3,1093 198.3,1091.9 201.3,1090.9 204.3,1089.8 207.4,1088.8 210.5,1087.8 213.7,1086.9 216.8,1085.9 220,1085 223.3,1084.1 226.5,1083.2 229.8,1082.4 233.1,1081.5 236.4,1080.7 239.8,1079.9 243.2,1079.2 246.6,1078.4 250,1077.7 253.4,1077 256.9,1076.3 260.4,1075.7 263.9,1075 267.4,1074.4 270.9,1073.9 274.4,1073.3 278,1072.8 281.6,1072.3 285.2,1071.8 288.8,1071.3 292.4,1070.9 296.1,1070.5 299.7,1070.1 303.4,1069.7 307,1069.4 310.7,1069 314.4,1068.7 318.1,1068.5 321.8,1068.2 325.5,1068 329.2,1067.8 332.9,1067.6 336.6,1067.5 340.3,1067.3 344.1,1067.2 347.8,1067.1 351.5,1067.1 355.3,1067 359,1067 362.7,1067 366.5,1067.1 370.2,1067.1 373.9,1067.2 377.7,1067.3 381.4,1067.5 385.1,1067.6 388.8,1067.8 392.5,1068 396.2,1068.2 399.9,1068.5 403.6,1068.7 407.3,1069 411,1069.4 414.6,1069.7 418.3,1070.1 421.9,1070.5 425.6,1070.9 429.2,1071.3 432.8,1071.8 436.4,1072.3 440,1072.8 443.6,1073.3 447.1,1073.9 450.6,1074.4 454.1,1075 457.6,1075.7 461.1,1076.3 464.6,1077 468,1077.7 471.4,1078.4 474.8,1079.2 478.2,1079.9 481.6,1080.7 484.9,1081.5 488.2,1082.4 491.5,1083.2 494.7,1084.1 498,1085 501.2,1085.9 504.3,1086.9 507.5,1087.8 510.6,1088.8 513.7,1089.8 516.7,1090.9 519.7,1091.9 522.7,1093 525.7,1094.1 528.6,1095.2 531.5,1096.4 534.3,1097.6 537.1,1098.8 539.9,1100 542.6,1101.2 545.3,1102.4 547.9,1103.7 550.5,1105 553.1,1106.3 555.6,1107.7 558.1,1109 560.5,1110.4 562.9,1111.8 565.2,1113.2 567.5,1114.6 569.8,1116.1 572,1117.5 574.1,1119 576.2,1120.5 578.2,1122 580.2,1123.6 582.1,1125.2 584,1126.7 585.8,1128.3 587.6,1129.9 589.3,1131.6 590.9,1133.2 592.5,1134.9 594,1136.5 595.5,1138.2 596.9,1139.9 598.2,1141.7 599.5,1143.4 600.7,1145.1 601.9,1146.9 603,1148.7 604,1150.4 604.9,1152.2 605.8,1154 606.6,1155.9 607.3,1157.7 608,1159.5 608.5,1161.4 609.1,1163.2 609.5,1165.1 609.9,1167 610.1,1168.9 610.4,1170.8 610.5,1172.7 610.5,1174.6 610.5,1176.5 610.4,1178.4 606.5,1224.5 606.4,1226.5 606.1,1228.5 605.7,1230.6 605.3,1232.6 604.8,1234.6 604.2,1236.7 603.5,1238.7 602.8,1240.7 601.9,1242.8 601,1244.8 600,1246.8 598.9,1248.8 597.8,1250.8 596.5,1252.9 595.2,1254.9 593.7,1256.9 592.2,1258.9 590.6,1260.9 589,1262.8 587.2,1264.8 585.3,1266.8 583.4,1268.7 581.4,1270.6 579.3,1272.6 577.1,1274.5 574.8,1276.4 572.5,1278.2 570,1280.1 567.5,1281.9 564.9,1283.8 562.2,1285.6 559.4,1287.3 556.6,1289.1 553.7,1290.9 550.6,1292.6 547.6,1294.3 544.4,1295.9 541.1,1297.6 537.8,1299.2 534.4,1300.8 531,1302.4 527.4,1303.9 523.8,1305.4 520.1,1306.9 516.4,1308.3 512.5,1309.8 508.6,1311.1 504.7,1312.5 500.6,1313.8 496.6,1315.1 492.4,1316.3 488.2,1317.5 483.9,1318.7 479.6,1319.8 475.2,1320.9 470.8,1322 466.3,1323 461.8,1324 457.2,1324.9 452.6,1325.8 447.9,1326.6 443.2,1327.4 438.5,1328.2 433.7,1328.9 428.9,1329.6 424,1330.2 419.1,1330.8 414.2,1331.3 409.3,1331.8 404.3,1332.3 399.3,1332.7 394.3,1333 389.3,1333.3 384.3,1333.6 379.2,1333.8 374.2,1334 369.1,1334.1 364.1,1334.2 359,1334.2 353.9,1334.2 348.9,1334.1 343.8,1334 338.8,1333.8 333.7,1333.6 328.7,1333.3 323.7,1333 318.7,1332.7 313.7,1332.3 308.7,1331.8 303.8,1331.3 298.9,1330.8 294,1330.2 289.1,1329.6 284.3,1328.9 279.5,1328.2 274.8,1327.4 270.1,1326.6 265.4,1325.8 260.8,1324.9 256.2,1324 251.7,1323 247.2,1322 242.8,1320.9 238.4,1319.8 234.1,1318.7 229.8,1317.5 225.6,1316.3 221.4,1315.1 217.4,1313.8 213.3,1312.5 209.4,1311.1 205.5,1309.8 201.7,1308.3 197.9,1306.9 194.2,1305.4 190.6,1303.9 187,1302.4 183.6,1300.8 180.2,1299.2 176.8,1297.6 173.6,1295.9 170.4,1294.3 167.3,1292.6 164.3,1290.9 161.4,1289.1 158.6,1287.3 155.8,1285.6 153.1,1283.8 150.5,1281.9 148,1280.1 145.5,1278.2 143.2,1276.4 140.9,1274.5 138.7,1272.6 136.6,1270.6 134.6,1268.7 132.7,1266.8 130.8,1264.8 129.1,1262.8 127.4,1260.9 125.8,1258.9 124.3,1256.9 122.8,1254.9 121.5,1252.9 120.2,1250.8 119.1,1248.8 118,1246.8 117,1244.8 116.1,1242.8 115.2,1240.7 114.5,1238.7 113.8,1236.7 113.2,1234.6 112.7,1232.6 112.3,1230.6 111.9,1228.5 111.7,1226.5 111.5,1224.5 107.6,1178.4 107.5,1176.5"/>
<polygon fill="url(#p2sT)" points="107.5,1174.6 107.5,1172.7 107.6,1170.8 107.8,1168.9 108.1,1167 108.5,1165.1 108.9,1163.2 109.5,1161.4 110,1159.5 110.7,1157.7 111.4,1155.9 112.2,1154 113.1,1152.2 114,1150.4 115,1148.7 116.1,1146.9 117.3,1145.1 118.5,1143.4 119.8,1141.7 121.1,1139.9 122.5,1138.2 124,1136.5 125.5,1134.9 127.1,1133.2 128.7,1131.6 130.4,1129.9 132.2,1128.3 134,1126.7 135.9,1125.2 137.8,1123.6 139.8,1122 141.8,1120.5 143.9,1119 146,1117.5 148.2,1116.1 150.5,1114.6 152.8,1113.2 155.1,1111.8 157.5,1110.4 159.9,1109 162.4,1107.7 164.9,1106.3 167.5,1105 170.1,1103.7 172.7,1102.4 175.4,1101.2 178.1,1100 180.9,1098.8 183.7,1097.6 186.6,1096.4 189.4,1095.2 192.3,1094.1 195.3,1093 198.3,1091.9 201.3,1090.9 204.3,1089.8 207.4,1088.8 210.5,1087.8 213.7,1086.9 216.8,1085.9 220,1085 223.3,1084.1 226.5,1083.2 229.8,1082.4 233.1,1081.5 236.4,1080.7 239.8,1079.9 243.2,1079.2 246.6,1078.4 250,1077.7 253.4,1077 256.9,1076.3 260.4,1075.7 263.9,1075 267.4,1074.4 270.9,1073.9 274.4,1073.3 278,1072.8 281.6,1072.3 285.2,1071.8 288.8,1071.3 292.4,1070.9 296.1,1070.5 299.7,1070.1 303.4,1069.7 307,1069.4 310.7,1069 314.4,1068.7 318.1,1068.5 321.8,1068.2 325.5,1068 329.2,1067.8 332.9,1067.6 336.6,1067.5 340.3,1067.3 344.1,1067.2 347.8,1067.1 351.5,1067.1 355.3,1067 359,1067 362.7,1067 366.5,1067.1 370.2,1067.1 373.9,1067.2 377.7,1067.3 381.4,1067.5 385.1,1067.6 388.8,1067.8 392.5,1068 396.2,1068.2 399.9,1068.5 403.6,1068.7 407.3,1069 411,1069.4 414.6,1069.7 418.3,1070.1 421.9,1070.5 425.6,1070.9 429.2,1071.3 432.8,1071.8 436.4,1072.3 440,1072.8 443.6,1073.3 447.1,1073.9 450.6,1074.4 454.1,1075 457.6,1075.7 461.1,1076.3 464.6,1077 468,1077.7 471.4,1078.4 474.8,1079.2 478.2,1079.9 481.6,1080.7 484.9,1081.5 488.2,1082.4 491.5,1083.2 494.7,1084.1 498,1085 501.2,1085.9 504.3,1086.9 507.5,1087.8 510.6,1088.8 513.7,1089.8 516.7,1090.9 519.7,1091.9 522.7,1093 525.7,1094.1 528.6,1095.2 531.5,1096.4 534.3,1097.6 537.1,1098.8 539.9,1100 542.6,1101.2 545.3,1102.4 547.9,1103.7 550.5,1105 553.1,1106.3 555.6,1107.7 558.1,1109 560.5,1110.4 562.9,1111.8 565.2,1113.2 567.5,1114.6 569.8,1116.1 572,1117.5 574.1,1119 576.2,1120.5 578.2,1122 580.2,1123.6 582.1,1125.2 584,1126.7 585.8,1128.3 587.6,1129.9 589.3,1131.6 590.9,1133.2 592.5,1134.9 594,1136.5 595.5,1138.2 596.9,1139.9 598.2,1141.7 599.5,1143.4 600.7,1145.1 601.9,1146.9 603,1148.7 604,1150.4 604.9,1152.2 605.8,1154 606.6,1155.9 607.3,1157.7 608,1159.5 608.5,1161.4 609.1,1163.2 609.5,1165.1 609.9,1167 610.1,1168.9 610.4,1170.8 610.5,1172.7 610.5,1174.6 610.5,1176.5 610.4,1178.4 606.5,1224.5 606.4,1226.5 606.1,1228.5 605.7,1230.6 605.3,1232.6 604.8,1234.6 604.2,1236.7 603.5,1238.7 602.8,1240.7 601.9,1242.8 601,1244.8 600,1246.8 598.9,1248.8 597.8,1250.8 596.5,1252.9 595.2,1254.9 593.7,1256.9 592.2,1258.9 590.6,1260.9 589,1262.8 587.2,1264.8 585.3,1266.8 583.4,1268.7 581.4,1270.6 579.3,1272.6 577.1,1274.5 574.8,1276.4 572.5,1278.2 570,1280.1 567.5,1281.9 564.9,1283.8 562.2,1285.6 559.4,1287.3 556.6,1289.1 553.7,1290.9 550.6,1292.6 547.6,1294.3 544.4,1295.9 541.1,1297.6 537.8,1299.2 534.4,1300.8 531,1302.4 527.4,1303.9 523.8,1305.4 520.1,1306.9 516.4,1308.3 512.5,1309.8 508.6,1311.1 504.7,1312.5 500.6,1313.8 496.6,1315.1 492.4,1316.3 488.2,1317.5 483.9,1318.7 479.6,1319.8 475.2,1320.9 470.8,1322 466.3,1323 461.8,1324 457.2,1324.9 452.6,1325.8 447.9,1326.6 443.2,1327.4 438.5,1328.2 433.7,1328.9 428.9,1329.6 424,1330.2 419.1,1330.8 414.2,1331.3 409.3,1331.8 404.3,1332.3 399.3,1332.7 394.3,1333 389.3,1333.3 384.3,1333.6 379.2,1333.8 374.2,1334 369.1,1334.1 364.1,1334.2 359,1334.2 353.9,1334.2 348.9,1334.1 343.8,1334 338.8,1333.8 333.7,1333.6 328.7,1333.3 323.7,1333 318.7,1332.7 313.7,1332.3 308.7,1331.8 303.8,1331.3 298.9,1330.8 294,1330.2 289.1,1329.6 284.3,1328.9 279.5,1328.2 274.8,1327.4 270.1,1326.6 265.4,1325.8 260.8,1324.9 256.2,1324 251.7,1323 247.2,1322 242.8,1320.9 238.4,1319.8 234.1,1318.7 229.8,1317.5 225.6,1316.3 221.4,1315.1 217.4,1313.8 213.3,1312.5 209.4,1311.1 205.5,1309.8 201.7,1308.3 197.9,1306.9 194.2,1305.4 190.6,1303.9 187,1302.4 183.6,1300.8 180.2,1299.2 176.8,1297.6 173.6,1295.9 170.4,1294.3 167.3,1292.6 164.3,1290.9 161.4,1289.1 158.6,1287.3 155.8,1285.6 153.1,1283.8 150.5,1281.9 148,1280.1 145.5,1278.2 143.2,1276.4 140.9,1274.5 138.7,1272.6 136.6,1270.6 134.6,1268.7 132.7,1266.8 130.8,1264.8 129.1,1262.8 127.4,1260.9 125.8,1258.9 124.3,1256.9 122.8,1254.9 121.5,1252.9 120.2,1250.8 119.1,1248.8 118,1246.8 117,1244.8 116.1,1242.8 115.2,1240.7 114.5,1238.7 113.8,1236.7 113.2,1234.6 112.7,1232.6 112.3,1230.6 111.9,1228.5 111.7,1226.5 111.5,1224.5 107.6,1178.4 107.5,1176.5"/>
<polygon fill="url(#p2sP)" clip-path="url(#p2cl)" points="107.5,1174.6 107.5,1172.7 107.6,1170.8 107.8,1168.9 108.1,1167 108.5,1165.1 108.9,1163.2 109.5,1161.4 110,1159.5 110.7,1157.7 111.4,1155.9 112.2,1154 113.1,1152.2 114,1150.4 115,1148.7 116.1,1146.9 117.3,1145.1 118.5,1143.4 119.8,1141.7 121.1,1139.9 122.5,1138.2 124,1136.5 125.5,1134.9 127.1,1133.2 128.7,1131.6 130.4,1129.9 132.2,1128.3 134,1126.7 135.9,1125.2 137.8,1123.6 139.8,1122 141.8,1120.5 143.9,1119 146,1117.5 148.2,1116.1 150.5,1114.6 152.8,1113.2 155.1,1111.8 157.5,1110.4 159.9,1109 162.4,1107.7 164.9,1106.3 167.5,1105 170.1,1103.7 172.7,1102.4 175.4,1101.2 178.1,1100 180.9,1098.8 183.7,1097.6 186.6,1096.4 189.4,1095.2 192.3,1094.1 195.3,1093 198.3,1091.9 201.3,1090.9 204.3,1089.8 207.4,1088.8 210.5,1087.8 213.7,1086.9 216.8,1085.9 220,1085 223.3,1084.1 226.5,1083.2 229.8,1082.4 233.1,1081.5 236.4,1080.7 239.8,1079.9 243.2,1079.2 246.6,1078.4 250,1077.7 253.4,1077 256.9,1076.3 260.4,1075.7 263.9,1075 267.4,1074.4 270.9,1073.9 274.4,1073.3 278,1072.8 281.6,1072.3 285.2,1071.8 288.8,1071.3 292.4,1070.9 296.1,1070.5 299.7,1070.1 303.4,1069.7 307,1069.4 310.7,1069 314.4,1068.7 318.1,1068.5 321.8,1068.2 325.5,1068 329.2,1067.8 332.9,1067.6 336.6,1067.5 340.3,1067.3 344.1,1067.2 347.8,1067.1 351.5,1067.1 355.3,1067 359,1067 362.7,1067 366.5,1067.1 370.2,1067.1 373.9,1067.2 377.7,1067.3 381.4,1067.5 385.1,1067.6 388.8,1067.8 392.5,1068 396.2,1068.2 399.9,1068.5 403.6,1068.7 407.3,1069 411,1069.4 414.6,1069.7 418.3,1070.1 421.9,1070.5 425.6,1070.9 429.2,1071.3 432.8,1071.8 436.4,1072.3 440,1072.8 443.6,1073.3 447.1,1073.9 450.6,1074.4 454.1,1075 457.6,1075.7 461.1,1076.3 464.6,1077 468,1077.7 471.4,1078.4 474.8,1079.2 478.2,1079.9 481.6,1080.7 484.9,1081.5 488.2,1082.4 491.5,1083.2 494.7,1084.1 498,1085 501.2,1085.9 504.3,1086.9 507.5,1087.8 510.6,1088.8 513.7,1089.8 516.7,1090.9 519.7,1091.9 522.7,1093 525.7,1094.1 528.6,1095.2 531.5,1096.4 534.3,1097.6 537.1,1098.8 539.9,1100 542.6,1101.2 545.3,1102.4 547.9,1103.7 550.5,1105 553.1,1106.3 555.6,1107.7 558.1,1109 560.5,1110.4 562.9,1111.8 565.2,1113.2 567.5,1114.6 569.8,1116.1 572,1117.5 574.1,1119 576.2,1120.5 578.2,1122 580.2,1123.6 582.1,1125.2 584,1126.7 585.8,1128.3 587.6,1129.9 589.3,1131.6 590.9,1133.2 592.5,1134.9 594,1136.5 595.5,1138.2 596.9,1139.9 598.2,1141.7 599.5,1143.4 600.7,1145.1 601.9,1146.9 603,1148.7 604,1150.4 604.9,1152.2 605.8,1154 606.6,1155.9 607.3,1157.7 608,1159.5 608.5,1161.4 609.1,1163.2 609.5,1165.1 609.9,1167 610.1,1168.9 610.4,1170.8 610.5,1172.7 610.5,1174.6 610.5,1176.5 610.4,1178.4 606.5,1224.5 606.4,1226.5 606.1,1228.5 605.7,1230.6 605.3,1232.6 604.8,1234.6 604.2,1236.7 603.5,1238.7 602.8,1240.7 601.9,1242.8 601,1244.8 600,1246.8 598.9,1248.8 597.8,1250.8 596.5,1252.9 595.2,1254.9 593.7,1256.9 592.2,1258.9 590.6,1260.9 589,1262.8 587.2,1264.8 585.3,1266.8 583.4,1268.7 581.4,1270.6 579.3,1272.6 577.1,1274.5 574.8,1276.4 572.5,1278.2 570,1280.1 567.5,1281.9 564.9,1283.8 562.2,1285.6 559.4,1287.3 556.6,1289.1 553.7,1290.9 550.6,1292.6 547.6,1294.3 544.4,1295.9 541.1,1297.6 537.8,1299.2 534.4,1300.8 531,1302.4 527.4,1303.9 523.8,1305.4 520.1,1306.9 516.4,1308.3 512.5,1309.8 508.6,1311.1 504.7,1312.5 500.6,1313.8 496.6,1315.1 492.4,1316.3 488.2,1317.5 483.9,1318.7 479.6,1319.8 475.2,1320.9 470.8,1322 466.3,1323 461.8,1324 457.2,1324.9 452.6,1325.8 447.9,1326.6 443.2,1327.4 438.5,1328.2 433.7,1328.9 428.9,1329.6 424,1330.2 419.1,1330.8 414.2,1331.3 409.3,1331.8 404.3,1332.3 399.3,1332.7 394.3,1333 389.3,1333.3 384.3,1333.6 379.2,1333.8 374.2,1334 369.1,1334.1 364.1,1334.2 359,1334.2 353.9,1334.2 348.9,1334.1 343.8,1334 338.8,1333.8 333.7,1333.6 328.7,1333.3 323.7,1333 318.7,1332.7 313.7,1332.3 308.7,1331.8 303.8,1331.3 298.9,1330.8 294,1330.2 289.1,1329.6 284.3,1328.9 279.5,1328.2 274.8,1327.4 270.1,1326.6 265.4,1325.8 260.8,1324.9 256.2,1324 251.7,1323 247.2,1322 242.8,1320.9 238.4,1319.8 234.1,1318.7 229.8,1317.5 225.6,1316.3 221.4,1315.1 217.4,1313.8 213.3,1312.5 209.4,1311.1 205.5,1309.8 201.7,1308.3 197.9,1306.9 194.2,1305.4 190.6,1303.9 187,1302.4 183.6,1300.8 180.2,1299.2 176.8,1297.6 173.6,1295.9 170.4,1294.3 167.3,1292.6 164.3,1290.9 161.4,1289.1 158.6,1287.3 155.8,1285.6 153.1,1283.8 150.5,1281.9 148,1280.1 145.5,1278.2 143.2,1276.4 140.9,1274.5 138.7,1272.6 136.6,1270.6 134.6,1268.7 132.7,1266.8 130.8,1264.8 129.1,1262.8 127.4,1260.9 125.8,1258.9 124.3,1256.9 122.8,1254.9 121.5,1252.9 120.2,1250.8 119.1,1248.8 118,1246.8 117,1244.8 116.1,1242.8 115.2,1240.7 114.5,1238.7 113.8,1236.7 113.2,1234.6 112.7,1232.6 112.3,1230.6 111.9,1228.5 111.7,1226.5 111.5,1224.5 107.6,1178.4 107.5,1176.5"/>
<polygon fill="url(#p2g0)" stroke="#2f62a6" stroke-width="0.5" stroke-linejoin="round" points="359,1157.7 359,1067 363.4,1067 367.7,1067.1"/>
<polygon fill="url(#p2g1)" stroke="#9e2b2b" stroke-width="0.5" stroke-linejoin="round" points="359,1157.7 367.7,1067.1 373.3,1067.2 378.9,1067.4 384.5,1067.6 390,1067.8 395.6,1068.2 401.1,1068.5 406.6,1069 412.1,1069.5 417.6,1070 423,1070.6 428.4,1071.2 433.8,1071.9 439.2,1072.7 444.5,1073.5 449.8,1074.3 455.1,1075.2 460.3,1076.2 465.4,1077.2 470.6,1078.2 475.7,1079.3 480.7,1080.5 485.7,1081.7 490.6,1083 495.4,1084.3 500.2,1085.7 505,1087.1 509.7,1088.5 514.3,1090.1 518.8,1091.6 523.3,1093.2 527.7,1094.9 532,1096.6 536.2,1098.4 540.3,1100.2 544.4,1102 548.3,1103.9"/>
<polygon fill="url(#p2g2)" stroke="#7d9c3a" stroke-width="0.5" stroke-linejoin="round" points="359,1157.7 548.3,1103.9 552.2,1105.8 555.9,1107.8 559.5,1109.8 563.1,1111.9 566.5,1113.9 569.8,1116.1 573,1118.3 576.1,1120.5 579.1,1122.7 582,1125"/>
<polygon fill="url(#p2g3)" stroke="#593f7e" stroke-width="0.5" stroke-linejoin="round" points="359,1157.7 582,1125 584.8,1127.4 587.4,1129.8 589.9,1132.2 592.3,1134.6 594.6,1137.1 596.7,1139.7 598.7,1142.2 600.5,1144.8 602.2,1147.4 603.8,1150.1 605.2,1152.8 606.4,1155.5 607.5,1158.2 608.4,1160.9 609.2,1163.7 609.8,1166.5 610.2,1169.3 610.5,1172.1 610.5,1175 610.5,1177.8 610.2,1180.7 609.8,1183.5 609.1,1186.4 608.3,1189.3 607.3,1192.2 606.2,1195 604.8,1197.9 603.3,1200.8 601.5,1203.6 599.6,1206.5 597.5,1209.3 595.2,1212.2 592.7,1215 590,1217.8 587.1,1220.5 584,1223.3 580.8,1226 577.3,1228.6 573.7,1231.3 569.8,1233.9 565.8,1236.5 561.6,1239 557.2,1241.5 552.6,1243.9 547.9,1246.3 543,1248.6 537.9,1250.9 532.6,1253.1 527.2,1255.3 521.6,1257.4 515.8,1259.4 509.9,1261.4 503.9,1263.3 497.7,1265.1 491.4,1266.8 484.9,1268.5 478.3,1270 471.6,1271.5 464.8,1273 457.9,1274.3 450.8,1275.5 443.7,1276.7 436.5,1277.7 429.2,1278.7 421.8,1279.5 414.4,1280.3 406.9,1281 399.3,1281.6 391.7,1282.1 384.1,1282.4 376.5,1282.7 368.8,1282.9 361.1,1283 353.4,1282.9"/>
<polygon fill="url(#p2g4)" stroke="#2792ae" stroke-width="0.5" stroke-linejoin="round" points="359,1157.7 353.4,1282.9 345.7,1282.8 338,1282.6 330.3,1282.3 322.7,1281.8 315,1281.3 307.5,1280.7 300,1280 292.5,1279.1 285.1,1278.2 277.8,1277.2 270.6,1276.1 263.5,1274.9 256.4,1273.6 249.5,1272.2 242.7,1270.7 236,1269.2 229.5,1267.6 223,1265.8 216.8,1264 210.6,1262.2 204.6,1260.2 198.8,1258.2 193.1,1256.1 187.5,1254 182.2,1251.8 177,1249.5 172,1247.2 167.1,1244.8 162.5,1242.4 158,1239.9 153.7,1237.4 149.6,1234.8 145.6,1232.2 141.9,1229.5 138.4,1226.9 135,1224.1 131.9,1221.4 128.9,1218.6 126.1,1215.8 123.6,1213 121.2,1210.2 119,1207.3 117,1204.5 115.2,1201.6 113.6,1198.7 112.2,1195.8 110.9,1192.9 109.9,1190 109,1187.1 108.4,1184.2 107.9,1181.3 107.6,1178.5 107.5,1175.6 107.5,1172.7 107.7,1169.9 108.1,1167.1"/>
<polygon fill="url(#p2g5)" stroke="#d0711f" stroke-width="0.5" stroke-linejoin="round" points="359,1157.7 108.1,1167.1 108.5,1165 109,1163"/>
<polygon fill="url(#p2g6)" stroke="#3f74c4" stroke-width="0.5" stroke-linejoin="round" points="359,1157.7 109,1163 109.6,1161 110.2,1159"/>
<polygon fill="url(#p2g7)" stroke="#b23333" stroke-width="0.5" stroke-linejoin="round" points="359,1157.7 110.2,1159 111.3,1156.3 112.5,1153.6 113.8,1150.9 115.3,1148.2 117,1145.5 118.8,1142.9 120.8,1140.3 122.9,1137.8 125.1,1135.3 127.5,1132.8 130,1130.3 132.6,1127.9 135.4,1125.6 138.3,1123.2 141.3,1120.9 144.4,1118.7 147.6,1116.5 151,1114.3 154.4,1112.2 158,1110.1 161.7,1108 165.4,1106 169.3,1104.1 173.3,1102.2 177.3,1100.3 181.5,1098.5 185.7,1096.7 190,1095 194.4,1093.4 198.8,1091.7 203.4,1090.2 208,1088.7 212.6,1087.2 217.4,1085.8 222.2,1084.4 227.1,1083.1 232,1081.8 237,1080.6"/>
<polygon fill="url(#p2g8)" stroke="#9aba3e" stroke-width="0.5" stroke-linejoin="round" points="359,1157.7 237,1080.6 241.6,1079.5 246.3,1078.5 251,1077.5 255.8,1076.5 260.6,1075.6 265.4,1074.8"/>
<polygon fill="url(#p2g9)" stroke="#7b52a8" stroke-width="0.5" stroke-linejoin="round" points="359,1157.7 265.4,1074.8 269.8,1074 274.3,1073.3 278.8,1072.7"/>
<polygon fill="url(#p2g10)" stroke="#31a9cd" stroke-width="0.5" stroke-linejoin="round" points="359,1157.7 278.8,1072.7 283.7,1072 288.6,1071.3 293.5,1070.8 298.5,1070.2 303.4,1069.7 308.4,1069.2 313.4,1068.8 318.4,1068.4 323.5,1068.1"/>
<polygon fill="url(#p2g11)" stroke="#f38b27" stroke-width="0.5" stroke-linejoin="round" points="359,1157.7 323.5,1068.1 328.8,1067.8 334.2,1067.6 339.5,1067.4 344.9,1067.2 350.3,1067.1"/>
<polygon fill="url(#p2g12)" stroke="#9fb4dc" stroke-width="0.5" stroke-linejoin="round" points="359,1157.7 350.3,1067.1 354.6,1067 359,1067"/>
<ellipse cx="359" cy="1175" rx="251.5" ry="108" fill="url(#p2sh)"/>
<g clip-path="url(#p2ct)" fill="#000" fill-rule="evenodd">
<path fill-opacity="0.03" d="M107.5,1175a251.5,108 0 1,0 503.1,0a251.5,108 0 1,0 -503.1,0zM107.5,1173a251.5,108 0 1,0 503.1,0a251.5,108 0 1,0 -503.1,0z"/>
<path fill-opacity="0.03" d="M107.5,1175a251.5,108 0 1,0 503.1,0a251.5,108 0 1,0 -503.1,0zM107.5,1171a251.5,108 0 1,0 503.1,0a251.5,108 0 1,0 -503.1,0z"/>
<path fill-opacity="0.028" d="M107.5,1175a251.5,108 0 1,0 503.1,0a251.5,108 0 1,0 -503.1,0zM107.5,1168a251.5,108 0 1,0 503.1,0a251.5,108 0 1,0 -503.1,0z"/>
<path fill-opacity="0.026" d="M107.5,1175a251.5,108 0 1,0 503.1,0a251.5,108 0 1,0 -503.1,0zM107.5,1165a251.5,108 0 1,0 503.1,0a251.5,108 0 1,0 -503.1,0z"/>
<path fill-opacity="0.024" d="M107.5,1175a251.5,108 0 1,0 503.1,0a251.5,108 0 1,0 -503.1,0zM107.5,1162a251.5,108 0 1,0 503.1,0a251.5,108 0 1,0 -503.1,0z"/>
<path fill-opacity="0.022" d="M107.5,1175a251.5,108 0 1,0 503.1,0a251.5,108 0 1,0 -503.1,0zM107.5,1158a251.5,108 0 1,0 503.1,0a251.5,108 0 1,0 -503.1,0z"/>
<path fill-opacity="0.02" d="M107.5,1175a251.5,108 0 1,0 503.1,0a251.5,108 0 1,0 -503.1,0zM107.5,1154a251.5,108 0 1,0 503.1,0a251.5,108 0 1,0 -503.1,0z"/>
<path fill-opacity="0.02" d="M107.5,1175a251.5,108 0 1,0 503.1,0a251.5,108 0 1,0 -503.1,0zM107.5,1149a251.5,108 0 1,0 503.1,0a251.5,108 0 1,0 -503.1,0z"/>
</g>
<polyline fill="none" stroke="#fff" stroke-opacity="0.08" stroke-width="1.4" points="610.5,1175.6 610.4,1179.5 609.9,1183.3 609.1,1187.2 607.9,1191.1 606.4,1195 604.6,1198.9 602.4,1202.8 599.9,1206.7 597,1210.6 593.8,1214.4 590.2,1218.2 586.2,1221.9 581.9,1225.6 577.3,1229.2 572.3,1232.8 567,1236.3 561.3,1239.8 555.3,1243.1 548.9,1246.4 542.3,1249.6 535.3,1252.6 528,1255.6 520.4,1258.4 512.5,1261.1 504.4,1263.7 495.9,1266.2 487.3,1268.5 478.4,1270.6 469.2,1272.7 459.9,1274.5 450.4,1276.2 440.7,1277.7 430.8,1279.1 420.8,1280.3 410.7,1281.3 400.5,1282.1 390.2,1282.7 379.8,1283.2 369.4,1283.5 359,1283.6 348.6,1283.5 338.2,1283.2 327.8,1282.7 317.5,1282.1 307.3,1281.3 297.2,1280.3 287.2,1279.1 277.3,1277.7 267.6,1276.2 258.1,1274.5 248.8,1272.7 239.6,1270.6 230.7,1268.5 222.1,1266.2 213.6,1263.7 205.5,1261.1 197.6,1258.4 190,1255.6 182.7,1252.6 175.7,1249.6 169.1,1246.4 162.7,1243.1 156.7,1239.8 151,1236.3 145.7,1232.8 140.7,1229.2 136.1,1225.6 131.8,1221.9 127.8,1218.2 124.2,1214.4 121,1210.6 118.1,1206.7 115.6,1202.8 113.4,1198.9 111.6,1195 110.1,1191.1 108.9,1187.2 108.1,1183.3 107.6,1179.5 107.5,1175.6"/>
</g>
<text x="340.5" y="996.6" font-size="18.5" font-weight="bold" text-anchor="middle" fill="#000" textLength="46.6" lengthAdjust="spacingAndGlyphs" stroke="#000" stroke-width="0.25">Total</text>
<rect x="45.3" y="998.5" width="87.3" height="22.8" fill="#fff" stroke="#222" stroke-width="1"/>
<text x="49.5" y="1014.9" font-size="14" font-weight="bold" text-anchor="start" fill="#000" textLength="78.9" lengthAdjust="spacingAndGlyphs" xml:space="preserve" stroke="#000" stroke-width="0.25">G9P[8]; 3%</text>
<rect x="45.3" y="1031.4" width="87.3" height="22.5" fill="#fff" stroke="#222" stroke-width="1"/>
<text x="49.5" y="1047.7" font-size="14" font-weight="bold" text-anchor="start" fill="#000" textLength="78.9" lengthAdjust="spacingAndGlyphs" xml:space="preserve" stroke="#000" stroke-width="0.25">G9P[4]; 1%</text>
<rect x="43" y="1068" width="91.3" height="22.1" fill="#fff" stroke="#222" stroke-width="1"/>
<text x="47.2" y="1084.1" font-size="14" font-weight="bold" text-anchor="start" fill="#000" textLength="82.9" lengthAdjust="spacingAndGlyphs" xml:space="preserve" stroke="#000" stroke-width="0.25">G3P[8];  2%</text>
<rect x="220.2" y="997.7" width="67.5" height="24" fill="#fff" stroke="#222" stroke-width="1"/>
<text x="224.4" y="1014.7" font-size="14" font-weight="bold" text-anchor="start" fill="#000" textLength="59.1" lengthAdjust="spacingAndGlyphs" xml:space="preserve" stroke="#000" stroke-width="0.25">GNT; 2%</text>
<rect x="175.3" y="1121.2" width="96.6" height="23" fill="#fff" stroke="#222" stroke-width="1"/>
<text x="179.5" y="1137.7" font-size="14" font-weight="bold" text-anchor="start" fill="#000" textLength="88.2" lengthAdjust="spacingAndGlyphs" xml:space="preserve" stroke="#000" stroke-width="0.25">G3P[6]; 16%</text>
<rect x="20.6" y="1147" width="86.9" height="22.7" fill="#fff" stroke="#222" stroke-width="1"/>
<text x="24.8" y="1163.4" font-size="14" font-weight="bold" text-anchor="start" fill="#000" textLength="78.5" lengthAdjust="spacingAndGlyphs" xml:space="preserve" stroke="#000" stroke-width="0.25">G2P[8]; 1%</text>
<rect x="16.4" y="1192.4" width="86.8" height="22.2" fill="#fff" stroke="#222" stroke-width="1"/>
<text x="20.6" y="1208.5" font-size="14" font-weight="bold" text-anchor="start" fill="#000" textLength="78.4" lengthAdjust="spacingAndGlyphs" xml:space="preserve" stroke="#000" stroke-width="0.25">G2P[6]; 1%</text>
<rect x="223.8" y="1200" width="95.2" height="22.5" fill="#fff" stroke="#222" stroke-width="1"/>
<text x="228" y="1216.3" font-size="14" font-weight="bold" text-anchor="start" fill="#000" textLength="86.8" lengthAdjust="spacingAndGlyphs" xml:space="preserve" stroke="#000" stroke-width="0.25">G2P[4]; 23%</text>
<rect x="426.1" y="1190.7" width="95.4" height="20.5" fill="#fff" stroke="#222" stroke-width="1"/>
<text x="430.3" y="1206" font-size="14" font-weight="bold" text-anchor="start" fill="#000" textLength="87" lengthAdjust="spacingAndGlyphs" xml:space="preserve" stroke="#000" stroke-width="0.25">G1P[8]; 30%</text>
<rect x="422" y="995.1" width="83.4" height="22.7" fill="#fff" stroke="#222" stroke-width="1"/>
<text x="426.2" y="1011.5" font-size="14" font-weight="bold" text-anchor="start" fill="#000" textLength="75" lengthAdjust="spacingAndGlyphs" xml:space="preserve" stroke="#000" stroke-width="0.25">Mixed; 1%</text>
<rect x="416.1" y="1028" width="96.3" height="22.8" fill="#fff" stroke="#222" stroke-width="1"/>
<text x="420.3" y="1044.4" font-size="14" font-weight="bold" text-anchor="start" fill="#000" textLength="87.9" lengthAdjust="spacingAndGlyphs" xml:space="preserve" stroke="#000" stroke-width="0.25">G12P[6]; 1%</text>
<rect x="520.2" y="1057.1" width="89.3" height="23.5" fill="#fff" stroke="#222" stroke-width="1"/>
<text x="524.4" y="1073.9" font-size="14" font-weight="bold" text-anchor="start" fill="#000" textLength="80.9" lengthAdjust="spacingAndGlyphs" xml:space="preserve" stroke="#000" stroke-width="0.25">G1P[6]; 4%</text>
<rect x="387" y="1086.9" width="105.8" height="22.7" fill="#fff" stroke="#222" stroke-width="1"/>
<text x="391.2" y="1103.3" font-size="14" font-weight="bold" text-anchor="start" fill="#000" textLength="97.4" lengthAdjust="spacingAndGlyphs" xml:space="preserve" stroke="#000" stroke-width="0.25">G12P[8]; 15%</text>
<polyline fill="none" stroke="#282828" stroke-width="1.1" points="132.6,1002.8 137.7,1002.8 300.2,1069.3"/>
<polyline fill="none" stroke="#282828" stroke-width="1.1" points="132.6,1035.4 137.7,1036.2 269,1073.8"/>
<polyline fill="none" stroke="#282828" stroke-width="1.1" points="134.3,1071.3 139,1071.6 248.2,1078"/>
<polyline fill="none" stroke="#282828" stroke-width="1.1" points="287.7,1002.5 293.8,1002.5 336.5,1066.7"/>
<polyline fill="none" stroke="#282828" stroke-width="1.1" points="422,1000 415.8,1000 355.7,1066"/>
<polyline fill="none" stroke="#282828" stroke-width="1.1" points="416.1,1033 411.5,1033 363.8,1066.7"/>
<polyline fill="none" stroke="#282828" stroke-width="1.1" points="567.7,1080.6 567.7,1112.3"/>
<polyline fill="none" stroke="#282828" stroke-width="1.1" points="103.2,1192.4 108.6,1167.4"/>
<polyline fill="none" stroke="#282828" stroke-width="1.1" points="107.5,1166 110,1165"/>
<rect x="615.3" y="994" width="10.2" height="8.5" fill="#2f62a6"/>
<polygon points="615.3,994 625.5,994 620.4,998" fill="#fff" fill-opacity="0.36"/>
<polygon points="615.3,1002.5 625.5,1002.5 620.4,998" fill="#000" fill-opacity="0.18"/>
<text x="628.8" y="1002.5" font-size="14" font-weight="bold" text-anchor="start" fill="#000" textLength="56.5" lengthAdjust="spacingAndGlyphs" stroke="#000" stroke-width="0.25">G12P[6]</text>
<rect x="615.3" y="1026.6" width="10.2" height="8.5" fill="#9e2b2b"/>
<polygon points="615.3,1026.6 625.5,1026.6 620.4,1030.6" fill="#fff" fill-opacity="0.36"/>
<polygon points="615.3,1035.1 625.5,1035.1 620.4,1030.6" fill="#000" fill-opacity="0.18"/>
<text x="628.8" y="1035.1" font-size="14" font-weight="bold" text-anchor="start" fill="#000" textLength="56.5" lengthAdjust="spacingAndGlyphs" stroke="#000" stroke-width="0.25">G12P[8]</text>
<rect x="615.3" y="1059.2" width="10.2" height="8.5" fill="#7d9c3a"/>
<polygon points="615.3,1059.2 625.5,1059.2 620.4,1063.2" fill="#fff" fill-opacity="0.36"/>
<polygon points="615.3,1067.7 625.5,1067.7 620.4,1063.2" fill="#000" fill-opacity="0.18"/>
<text x="628.8" y="1067.7" font-size="14" font-weight="bold" text-anchor="start" fill="#000" textLength="46.7" lengthAdjust="spacingAndGlyphs" stroke="#000" stroke-width="0.25">G1P[6]</text>
<rect x="615.3" y="1091.8" width="10.2" height="8.5" fill="#593f7e"/>
<polygon points="615.3,1091.8 625.5,1091.8 620.4,1095.8" fill="#fff" fill-opacity="0.36"/>
<polygon points="615.3,1100.3 625.5,1100.3 620.4,1095.8" fill="#000" fill-opacity="0.18"/>
<text x="628.8" y="1100.3" font-size="14" font-weight="bold" text-anchor="start" fill="#000" textLength="46.7" lengthAdjust="spacingAndGlyphs" stroke="#000" stroke-width="0.25">G1P[8]</text>
<rect x="615.3" y="1124.4" width="10.2" height="8.5" fill="#2792ae"/>
<polygon points="615.3,1124.4 625.5,1124.4 620.4,1128.4" fill="#fff" fill-opacity="0.36"/>
<polygon points="615.3,1132.9 625.5,1132.9 620.4,1128.4" fill="#000" fill-opacity="0.18"/>
<text x="628.8" y="1132.9" font-size="14" font-weight="bold" text-anchor="start" fill="#000" textLength="46.7" lengthAdjust="spacingAndGlyphs" stroke="#000" stroke-width="0.25">G2P[4]</text>
<rect x="615.3" y="1157" width="10.2" height="8.5" fill="#d0711f"/>
<polygon points="615.3,1157 625.5,1157 620.4,1161" fill="#fff" fill-opacity="0.36"/>
<polygon points="615.3,1165.5 625.5,1165.5 620.4,1161" fill="#000" fill-opacity="0.18"/>
<text x="628.8" y="1165.5" font-size="14" font-weight="bold" text-anchor="start" fill="#000" textLength="46.7" lengthAdjust="spacingAndGlyphs" stroke="#000" stroke-width="0.25">G2P[6]</text>
<rect x="615.3" y="1189.6" width="10.2" height="8.5" fill="#3f74c4"/>
<polygon points="615.3,1189.6 625.5,1189.6 620.4,1193.6" fill="#fff" fill-opacity="0.36"/>
<polygon points="615.3,1198.1 625.5,1198.1 620.4,1193.6" fill="#000" fill-opacity="0.18"/>
<text x="628.8" y="1198.1" font-size="14" font-weight="bold" text-anchor="start" fill="#000" textLength="46.7" lengthAdjust="spacingAndGlyphs" stroke="#000" stroke-width="0.25">G2P[8]</text>
<rect x="615.3" y="1222.2" width="10.2" height="8.5" fill="#b23333"/>
<polygon points="615.3,1222.2 625.5,1222.2 620.4,1226.2" fill="#fff" fill-opacity="0.36"/>
<polygon points="615.3,1230.7 625.5,1230.7 620.4,1226.2" fill="#000" fill-opacity="0.18"/>
<text x="628.8" y="1230.7" font-size="14" font-weight="bold" text-anchor="start" fill="#000" textLength="46.7" lengthAdjust="spacingAndGlyphs" stroke="#000" stroke-width="0.25">G3P[6]</text>
<rect x="615.3" y="1254.8" width="10.2" height="8.5" fill="#9aba3e"/>
<polygon points="615.3,1254.8 625.5,1254.8 620.4,1258.8" fill="#fff" fill-opacity="0.36"/>
<polygon points="615.3,1263.3 625.5,1263.3 620.4,1258.8" fill="#000" fill-opacity="0.18"/>
<text x="628.8" y="1263.3" font-size="14" font-weight="bold" text-anchor="start" fill="#000" textLength="46.7" lengthAdjust="spacingAndGlyphs" stroke="#000" stroke-width="0.25">G3P[8]</text>
<rect x="615.3" y="1287.4" width="10.2" height="8.5" fill="#7b52a8"/>
<polygon points="615.3,1287.4 625.5,1287.4 620.4,1291.4" fill="#fff" fill-opacity="0.36"/>
<polygon points="615.3,1295.9 625.5,1295.9 620.4,1291.4" fill="#000" fill-opacity="0.18"/>
<text x="628.8" y="1295.9" font-size="14" font-weight="bold" text-anchor="start" fill="#000" textLength="46.7" lengthAdjust="spacingAndGlyphs" stroke="#000" stroke-width="0.25">G9P[4]</text>
<rect x="615.3" y="1320" width="10.2" height="8.5" fill="#31a9cd"/>
<polygon points="615.3,1320 625.5,1320 620.4,1324" fill="#fff" fill-opacity="0.36"/>
<polygon points="615.3,1328.5 625.5,1328.5 620.4,1324" fill="#000" fill-opacity="0.18"/>
<text x="628.8" y="1328.5" font-size="14" font-weight="bold" text-anchor="start" fill="#000" textLength="46.7" lengthAdjust="spacingAndGlyphs" stroke="#000" stroke-width="0.25">G9P[8]</text>
<rect x="615.3" y="1352.6" width="10.2" height="8.5" fill="#f38b27"/>
<polygon points="615.3,1352.6 625.5,1352.6 620.4,1356.6" fill="#fff" fill-opacity="0.36"/>
<polygon points="615.3,1361.1 625.5,1361.1 620.4,1356.6" fill="#000" fill-opacity="0.18"/>
<text x="628.8" y="1361.1" font-size="14" font-weight="bold" text-anchor="start" fill="#000" textLength="29" lengthAdjust="spacingAndGlyphs" stroke="#000" stroke-width="0.25">GNT</text>
<rect x="615.3" y="1385.2" width="10.2" height="8.5" fill="#9fb4dc"/>
<polygon points="615.3,1385.2 625.5,1385.2 620.4,1389.2" fill="#fff" fill-opacity="0.36"/>
<polygon points="615.3,1393.7 625.5,1393.7 620.4,1389.2" fill="#000" fill-opacity="0.18"/>
<text x="628.8" y="1393.7" font-size="14" font-weight="bold" text-anchor="start" fill="#000" textLength="44" lengthAdjust="spacingAndGlyphs" stroke="#000" stroke-width="0.25">Mixed</text>
<text x="36.2" y="1428.2" font-size="24" font-weight="bold" text-anchor="start" fill="#000" textLength="14.8" lengthAdjust="spacingAndGlyphs" stroke="#000" stroke-width="0.25">c</text>
<polyline fill="none" stroke="#8c8c8c" stroke-width="1" points="70,832.6 100,807.6 538,807.6"/>
<polyline fill="none" stroke="#8c8c8c" stroke-width="1" points="70,799.7 100,774.7 538,774.7"/>
<polyline fill="none" stroke="#8c8c8c" stroke-width="1" points="70,766.8 100,741.8 538,741.8"/>
<polyline fill="none" stroke="#8c8c8c" stroke-width="1" points="70,733.9 100,708.9 538,708.9"/>
<polyline fill="none" stroke="#8c8c8c" stroke-width="1" points="70,701 100,676 538,676"/>
<polyline fill="none" stroke="#8c8c8c" stroke-width="1" points="70,668.1 100,643.1 538,643.1"/>
<polyline fill="none" stroke="#8c8c8c" stroke-width="1" points="70,635.2 100,610.2 538,610.2"/>
<polyline fill="none" stroke="#8c8c8c" stroke-width="1" points="70,602.3 100,577.3 538,577.3"/>
<polyline fill="none" stroke="#8c8c8c" stroke-width="1" points="70,569.4 100,544.4 538,544.4"/>
<polyline fill="none" stroke="#8c8c8c" stroke-width="1" points="70,536.5 100,511.5 538,511.5"/>
<polyline fill="none" stroke="#8c8c8c" stroke-width="1" points="70,503.6 100,478.6 538,478.6"/>
<polygon points="70,832.6 100,807.6 538,807.6 508,832.6" fill="#b0b0b0"/>
<polyline fill="none" stroke="#8c8c8c" stroke-width="1" points="70,832.6 508,832.6"/>
<polyline fill="none" stroke="#8c8c8c" stroke-width="1" points="70,503 70,895.5"/>
<polyline fill="none" stroke="#8c8c8c" stroke-width="1" points="157.6,832.6 157.6,864.5"/>
<polyline fill="none" stroke="#8c8c8c" stroke-width="1" points="245.2,832.6 245.2,864.5"/>
<polyline fill="none" stroke="#8c8c8c" stroke-width="1" points="332.8,832.6 332.8,864.5"/>
<polyline fill="none" stroke="#8c8c8c" stroke-width="1" points="420.4,832.6 420.4,864.5"/>
<polyline fill="none" stroke="#8c8c8c" stroke-width="1" points="508,832.6 508,895.5"/>
<polyline fill="none" stroke="#9a9a9a" stroke-width="1.1" points="508,832.6 538,807.6"/>
<polyline fill="none" stroke="#8c8c8c" stroke-width="1" points="65.3,831.4 70,831.4"/>
<text x="55.8" y="838.3" font-size="14" font-weight="bold" text-anchor="end" fill="#000" stroke="#000" stroke-width="0.25">0</text>
<polyline fill="none" stroke="#8c8c8c" stroke-width="1" points="65.3,798.6 70,798.6"/>
<text x="55.8" y="805.5" font-size="14" font-weight="bold" text-anchor="end" fill="#000" stroke="#000" stroke-width="0.25">10</text>
<polyline fill="none" stroke="#8c8c8c" stroke-width="1" points="65.3,765.8 70,765.8"/>
<text x="55.8" y="772.7" font-size="14" font-weight="bold" text-anchor="end" fill="#000" stroke="#000" stroke-width="0.25">20</text>
<polyline fill="none" stroke="#8c8c8c" stroke-width="1" points="65.3,733 70,733"/>
<text x="55.8" y="739.9" font-size="14" font-weight="bold" text-anchor="end" fill="#000" stroke="#000" stroke-width="0.25">30</text>
<polyline fill="none" stroke="#8c8c8c" stroke-width="1" points="65.3,700.2 70,700.2"/>
<text x="55.8" y="707.1" font-size="14" font-weight="bold" text-anchor="end" fill="#000" stroke="#000" stroke-width="0.25">40</text>
<polyline fill="none" stroke="#8c8c8c" stroke-width="1" points="65.3,667.4 70,667.4"/>
<text x="55.8" y="674.3" font-size="14" font-weight="bold" text-anchor="end" fill="#000" stroke="#000" stroke-width="0.25">50</text>
<polyline fill="none" stroke="#8c8c8c" stroke-width="1" points="65.3,634.6 70,634.6"/>
<text x="55.8" y="641.5" font-size="14" font-weight="bold" text-anchor="end" fill="#000" stroke="#000" stroke-width="0.25">60</text>
<polyline fill="none" stroke="#8c8c8c" stroke-width="1" points="65.3,601.8 70,601.8"/>
<text x="55.8" y="608.7" font-size="14" font-weight="bold" text-anchor="end" fill="#000" stroke="#000" stroke-width="0.25">70</text>
<polyline fill="none" stroke="#8c8c8c" stroke-width="1" points="65.3,569 70,569"/>
<text x="55.8" y="575.9" font-size="14" font-weight="bold" text-anchor="end" fill="#000" stroke="#000" stroke-width="0.25">80</text>
<polyline fill="none" stroke="#8c8c8c" stroke-width="1" points="65.3,536.2 70,536.2"/>
<text x="55.8" y="543.1" font-size="14" font-weight="bold" text-anchor="end" fill="#000" stroke="#000" stroke-width="0.25">90</text>
<polyline fill="none" stroke="#8c8c8c" stroke-width="1" points="65.3,503.4 70,503.4"/>
<text x="55.8" y="510.3" font-size="14" font-weight="bold" text-anchor="end" fill="#000" stroke="#000" stroke-width="0.25">100</text>
<rect x="105" y="812.2" width="35.5" height="13.5" fill="#a0403e"/>
<polygon points="140.5,825.7 152.7,815.1 152.7,801.6 140.5,812.2" fill="#662827"/>
<rect x="105" y="805.6" width="35.5" height="6.9" fill="#84a048"/>
<polygon points="140.5,812.5 152.7,801.9 152.7,795 140.5,805.6" fill="#54662e"/>
<rect x="105" y="762.8" width="35.5" height="43.1" fill="#6b508c"/>
<polygon points="140.5,805.9 152.7,795.3 152.7,752.2 140.5,762.8" fill="#443359"/>
<rect x="105" y="729.8" width="35.5" height="33.3" fill="#3e8ea6"/>
<polygon points="140.5,763.1 152.7,752.5 152.7,719.2 140.5,729.8" fill="#275a6a"/>
<rect x="105" y="726.5" width="35.5" height="3.6" fill="#d6803a"/>
<polygon points="140.5,730.1 152.7,719.5 152.7,715.9 140.5,726.5" fill="#885125"/>
<rect x="105" y="723.2" width="35.5" height="3.6" fill="#4a80c6"/>
<polygon points="140.5,726.8 152.7,716.2 152.7,712.6 140.5,723.2" fill="#2f517e"/>
<rect x="105" y="677.1" width="35.5" height="46.4" fill="#c4504e"/>
<polygon points="140.5,723.5 152.7,712.9 152.7,666.5 140.5,677.1" fill="#7d3331"/>
<rect x="105" y="673.8" width="35.5" height="3.6" fill="#9bbc59"/>
<polygon points="140.5,677.4 152.7,666.8 152.7,663.2 140.5,673.8" fill="#637838"/>
<rect x="105" y="670.5" width="35.5" height="3.6" fill="#8064a2"/>
<polygon points="140.5,674.1 152.7,663.5 152.7,659.9 140.5,670.5" fill="#514067"/>
<rect x="105" y="667.2" width="35.5" height="3.6" fill="#4bacc6"/>
<polygon points="140.5,670.8 152.7,660.2 152.7,656.6 140.5,667.2" fill="#306e7e"/>
<polygon points="105,667.2 117.2,656.6 152.7,656.6 140.5,667.2" fill="#8492ac"/>
<rect x="192.6" y="779.3" width="35.5" height="46.4" fill="#a0403e"/>
<polygon points="228.1,825.7 240.2,815.1 240.2,768.7 228.1,779.3" fill="#662827"/>
<rect x="192.6" y="769.4" width="35.5" height="10.2" fill="#84a048"/>
<polygon points="228.1,779.6 240.2,769 240.2,758.8 228.1,769.4" fill="#54662e"/>
<rect x="192.6" y="650.7" width="35.5" height="119" fill="#6b508c"/>
<polygon points="228.1,769.7 240.2,759.1 240.2,640.1 228.1,650.7" fill="#443359"/>
<rect x="192.6" y="568.3" width="35.5" height="82.7" fill="#3e8ea6"/>
<polygon points="228.1,651 240.2,640.4 240.2,557.7 228.1,568.3" fill="#275a6a"/>
<rect x="192.6" y="541.9" width="35.5" height="26.7" fill="#c4504e"/>
<polygon points="228.1,568.6 240.2,558 240.2,531.3 228.1,541.9" fill="#7d3331"/>
<rect x="192.6" y="535.4" width="35.5" height="6.9" fill="#9bbc59"/>
<polygon points="228.1,542.2 240.2,531.6 240.2,524.8 228.1,535.4" fill="#637838"/>
<rect x="192.6" y="532.1" width="35.5" height="3.6" fill="#8064a2"/>
<polygon points="228.1,535.7 240.2,525.1 240.2,521.5 228.1,532.1" fill="#514067"/>
<rect x="192.6" y="522.2" width="35.5" height="10.2" fill="#4bacc6"/>
<polygon points="228.1,532.4 240.2,521.8 240.2,511.6 228.1,522.2" fill="#306e7e"/>
<rect x="192.6" y="515.6" width="35.5" height="6.9" fill="#f79646"/>
<polygon points="228.1,522.5 240.2,511.9 240.2,505 228.1,515.6" fill="#9e602c"/>
<rect x="192.6" y="512.3" width="35.5" height="3.6" fill="#a9bbdb"/>
<polygon points="228.1,515.9 240.2,505.3 240.2,501.7 228.1,512.3" fill="#6c778c"/>
<polygon points="192.6,512.3 204.8,501.7 240.2,501.7 228.1,512.3" fill="#8492ac"/>
<rect x="280.1" y="822.1" width="35.5" height="3.6" fill="#3a6496"/>
<polygon points="315.6,825.7 327.8,815.1 327.8,811.5 315.6,822.1" fill="#254060"/>
<rect x="280.1" y="815.5" width="35.5" height="6.9" fill="#a0403e"/>
<polygon points="315.6,822.4 327.8,811.8 327.8,804.9 315.6,815.5" fill="#662827"/>
<rect x="280.1" y="812.2" width="35.5" height="3.6" fill="#84a048"/>
<polygon points="315.6,815.8 327.8,805.2 327.8,801.6 315.6,812.2" fill="#54662e"/>
<rect x="280.1" y="789.1" width="35.5" height="23.4" fill="#6b508c"/>
<polygon points="315.6,812.5 327.8,801.9 327.8,778.5 315.6,789.1" fill="#443359"/>
<rect x="280.1" y="759.5" width="35.5" height="30" fill="#3e8ea6"/>
<polygon points="315.6,789.4 327.8,778.8 327.8,748.9 315.6,759.5" fill="#275a6a"/>
<rect x="280.1" y="746.3" width="35.5" height="13.5" fill="#c4504e"/>
<polygon points="315.6,759.8 327.8,749.2 327.8,735.7 315.6,746.3" fill="#7d3331"/>
<rect x="280.1" y="743" width="35.5" height="3.6" fill="#4bacc6"/>
<polygon points="315.6,746.6 327.8,736 327.8,732.4 315.6,743" fill="#306e7e"/>
<rect x="280.1" y="736.4" width="35.5" height="6.9" fill="#f79646"/>
<polygon points="315.6,743.3 327.8,732.7 327.8,725.8 315.6,736.4" fill="#9e602c"/>
<polygon points="280.1,736.4 292.3,725.8 327.8,725.8 315.6,736.4" fill="#8492ac"/>
<rect x="367.6" y="818.8" width="35.5" height="6.9" fill="#a0403e"/>
<polygon points="403.1,825.7 415.3,815.1 415.3,808.2 403.1,818.8" fill="#662827"/>
<rect x="367.6" y="815.5" width="35.5" height="3.6" fill="#6b508c"/>
<polygon points="403.1,819.1 415.3,808.5 415.3,804.9 403.1,815.5" fill="#443359"/>
<rect x="367.6" y="812.2" width="35.5" height="3.6" fill="#3e8ea6"/>
<polygon points="403.1,815.8 415.3,805.2 415.3,801.6 403.1,812.2" fill="#275a6a"/>
<rect x="367.6" y="808.9" width="35.5" height="3.6" fill="#d6803a"/>
<polygon points="403.1,812.5 415.3,801.9 415.3,798.3 403.1,808.9" fill="#885125"/>
<rect x="367.6" y="805.6" width="35.5" height="3.6" fill="#c4504e"/>
<polygon points="403.1,809.2 415.3,798.6 415.3,795 403.1,805.6" fill="#7d3331"/>
<polygon points="367.6,805.6 379.8,795 415.3,795 403.1,805.6" fill="#8492ac"/>
<rect x="455.2" y="818.8" width="35.5" height="6.9" fill="#a0403e"/>
<polygon points="490.7,825.7 502.9,815.1 502.9,808.2 490.7,818.8" fill="#662827"/>
<rect x="455.2" y="808.9" width="35.5" height="10.2" fill="#6b508c"/>
<polygon points="490.7,819.1 502.9,808.5 502.9,798.3 490.7,808.9" fill="#443359"/>
<rect x="455.2" y="799" width="35.5" height="10.2" fill="#3e8ea6"/>
<polygon points="490.7,809.2 502.9,798.6 502.9,788.4 490.7,799" fill="#275a6a"/>
<rect x="455.2" y="792.4" width="35.5" height="6.9" fill="#c4504e"/>
<polygon points="490.7,799.3 502.9,788.7 502.9,781.8 490.7,792.4" fill="#7d3331"/>
<polygon points="455.2,792.4 467.4,781.8 502.9,781.8 490.7,792.4" fill="#8492ac"/>
<text x="113.8" y="860.2" font-size="14.5" font-weight="bold" text-anchor="middle" fill="#000" textLength="28" lengthAdjust="spacingAndGlyphs" stroke="#000" stroke-width="0.25">[0-6]</text>
<text x="201.4" y="860.2" font-size="14.5" font-weight="bold" text-anchor="middle" fill="#000" textLength="35" lengthAdjust="spacingAndGlyphs" stroke="#000" stroke-width="0.25">[7-12]</text>
<text x="289" y="860.2" font-size="14.5" font-weight="bold" text-anchor="middle" fill="#000" textLength="43" lengthAdjust="spacingAndGlyphs" stroke="#000" stroke-width="0.25">[13-18]</text>
<text x="376.6" y="860.2" font-size="14.5" font-weight="bold" text-anchor="middle" fill="#000" textLength="43" lengthAdjust="spacingAndGlyphs" stroke="#000" stroke-width="0.25">[19-24]</text>
<text x="464.2" y="860.2" font-size="14.5" font-weight="bold" text-anchor="middle" fill="#000" textLength="43" lengthAdjust="spacingAndGlyphs" stroke="#000" stroke-width="0.25">[25-59]</text>
<text x="289" y="890.3" font-size="14" font-weight="bold" text-anchor="middle" fill="#000" textLength="88" lengthAdjust="spacingAndGlyphs" stroke="#000" stroke-width="0.25">Age in months</text>
<rect x="558.7" y="478.2" width="9.2" height="9.2" fill="#a9bbdb" stroke="#8f9eba" stroke-width="0.6"/>
<text x="571" y="487.2" font-size="14.5" font-weight="bold" text-anchor="start" fill="#000" textLength="37.8" lengthAdjust="spacingAndGlyphs" stroke="#000" stroke-width="0.25">Mixed</text>
<rect x="558.7" y="511.5" width="9.2" height="9.2" fill="#f79646" stroke="#d17f3b" stroke-width="0.6"/>
<text x="571" y="520.5" font-size="14.5" font-weight="bold" text-anchor="start" fill="#000" textLength="24.7" lengthAdjust="spacingAndGlyphs" stroke="#000" stroke-width="0.25">GNT</text>
<rect x="558.7" y="544.7" width="9.2" height="9.2" fill="#4bacc6" stroke="#3f92a8" stroke-width="0.6"/>
<text x="571" y="553.7" font-size="14.5" font-weight="bold" text-anchor="start" fill="#000" textLength="41" lengthAdjust="spacingAndGlyphs" stroke="#000" stroke-width="0.25">G9P[8]</text>
<rect x="558.7" y="578" width="9.2" height="9.2" fill="#8064a2" stroke="#6c5589" stroke-width="0.6"/>
<text x="571" y="587" font-size="14.5" font-weight="bold" text-anchor="start" fill="#000" textLength="41" lengthAdjust="spacingAndGlyphs" stroke="#000" stroke-width="0.25">G9P[4]</text>
<rect x="558.7" y="611.2" width="9.2" height="9.2" fill="#9bbc59" stroke="#839f4b" stroke-width="0.6"/>
<text x="571" y="620.2" font-size="14.5" font-weight="bold" text-anchor="start" fill="#000" textLength="41" lengthAdjust="spacingAndGlyphs" stroke="#000" stroke-width="0.25">G3P[8]</text>
<rect x="558.7" y="644.5" width="9.2" height="9.2" fill="#c4504e" stroke="#a64442" stroke-width="0.6"/>
<text x="571" y="653.5" font-size="14.5" font-weight="bold" text-anchor="start" fill="#000" textLength="41" lengthAdjust="spacingAndGlyphs" stroke="#000" stroke-width="0.25">G3P[6]</text>
<rect x="558.7" y="677.7" width="9.2" height="9.2" fill="#4a80c6" stroke="#3e6ca8" stroke-width="0.6"/>
<text x="571" y="686.7" font-size="14.5" font-weight="bold" text-anchor="start" fill="#000" textLength="41" lengthAdjust="spacingAndGlyphs" stroke="#000" stroke-width="0.25">G2P[8]</text>
<rect x="558.7" y="711" width="9.2" height="9.2" fill="#d6803a" stroke="#b56c31" stroke-width="0.6"/>
<text x="571" y="720" font-size="14.5" font-weight="bold" text-anchor="start" fill="#000" textLength="41" lengthAdjust="spacingAndGlyphs" stroke="#000" stroke-width="0.25">G2P[6]</text>
<rect x="558.7" y="744.2" width="9.2" height="9.2" fill="#3e8ea6" stroke="#34788d" stroke-width="0.6"/>
<text x="571" y="753.2" font-size="14.5" font-weight="bold" text-anchor="start" fill="#000" textLength="41" lengthAdjust="spacingAndGlyphs" stroke="#000" stroke-width="0.25">G2P[4]</text>
<rect x="558.7" y="777.5" width="9.2" height="9.2" fill="#6b508c" stroke="#5a4477" stroke-width="0.6"/>
<text x="571" y="786.5" font-size="14.5" font-weight="bold" text-anchor="start" fill="#000" textLength="41" lengthAdjust="spacingAndGlyphs" stroke="#000" stroke-width="0.25">G1P[8]</text>
<rect x="558.7" y="810.7" width="9.2" height="9.2" fill="#84a048" stroke="#70883d" stroke-width="0.6"/>
<text x="571" y="819.7" font-size="14.5" font-weight="bold" text-anchor="start" fill="#000" textLength="41" lengthAdjust="spacingAndGlyphs" stroke="#000" stroke-width="0.25">G1P[6]</text>
<rect x="558.7" y="844" width="9.2" height="9.2" fill="#a0403e" stroke="#883634" stroke-width="0.6"/>
<text x="571" y="853" font-size="14.5" font-weight="bold" text-anchor="start" fill="#000" textLength="48.6" lengthAdjust="spacingAndGlyphs" stroke="#000" stroke-width="0.25">G12P[8]</text>
<rect x="558.7" y="877.2" width="9.2" height="9.2" fill="#3a6496" stroke="#31557f" stroke-width="0.6"/>
<text x="571" y="886.2" font-size="14.5" font-weight="bold" text-anchor="start" fill="#000" textLength="48.6" lengthAdjust="spacingAndGlyphs" stroke="#000" stroke-width="0.25">G12P[6]</text>
<text x="62" y="935.4" font-size="26" font-weight="bold" text-anchor="start" fill="#000" textLength="17" lengthAdjust="spacingAndGlyphs" stroke="#000" stroke-width="0.25">b</text>
<text x="127.9" y="428.4" font-size="18" textLength="63.1" lengthAdjust="spacingAndGlyphs" stroke="#000" stroke-width="0.3">Overall</text>
<text x="195.4" y="428.4" font-size="18" textLength="91.9" lengthAdjust="spacingAndGlyphs" stroke="#000" stroke-width="0.3">genotypes</text>
<text x="295" y="428.4" font-size="18" textLength="100.2" lengthAdjust="spacingAndGlyphs" stroke="#000" stroke-width="0.3">distribution</text>
<text x="403.7" y="428.4" font-size="18" textLength="14.4" lengthAdjust="spacingAndGlyphs" stroke="#000" stroke-width="0.3">in</text>
<text x="423.7" y="428.4" font-size="18" textLength="55.5" lengthAdjust="spacingAndGlyphs" stroke="#000" stroke-width="0.3">Benin.</text>
<text x="89.9" y="935" font-size="18" textLength="59.7" lengthAdjust="spacingAndGlyphs" stroke="#000" stroke-width="0.3">Overall</text>
<text x="155.4" y="935" font-size="18" textLength="94.8" lengthAdjust="spacingAndGlyphs" stroke="#000" stroke-width="0.3">distribution</text>
<text x="256.6" y="935" font-size="18" textLength="14.7" lengthAdjust="spacingAndGlyphs" stroke="#000" stroke-width="0.3">of</text>
<text x="275.8" y="935" font-size="18" textLength="86" lengthAdjust="spacingAndGlyphs" stroke="#000" stroke-width="0.3">genotypes</text>
<text x="367.8" y="935" font-size="18" textLength="80.2" lengthAdjust="spacingAndGlyphs" stroke="#000" stroke-width="0.3">according</text>
<text x="452.2" y="935" font-size="18" textLength="14.9" lengthAdjust="spacingAndGlyphs" stroke="#000" stroke-width="0.3">to</text>
<text x="473.4" y="935" font-size="18" textLength="29.6" lengthAdjust="spacingAndGlyphs" stroke="#000" stroke-width="0.3">age</text>
<text x="509" y="935" font-size="18" textLength="13.2" lengthAdjust="spacingAndGlyphs" stroke="#000" stroke-width="0.3">in</text>
<text x="530" y="935" font-size="18" textLength="52.2" lengthAdjust="spacingAndGlyphs" stroke="#000" stroke-width="0.3">Benin.</text>
<text x="65" y="1427.6" font-size="18" textLength="112.1" lengthAdjust="spacingAndGlyphs" stroke="#000" stroke-width="0.3">Distribution</text>
<text x="183.9" y="1427.6" font-size="18" textLength="18.4" lengthAdjust="spacingAndGlyphs" stroke="#000" stroke-width="0.3">of</text>
<text x="208.5" y="1427.6" font-size="18" textLength="100.9" lengthAdjust="spacingAndGlyphs" stroke="#000" stroke-width="0.3">genotypes</text>
<text x="315.4" y="1427.6" font-size="18" textLength="43" lengthAdjust="spacingAndGlyphs" stroke="#000" stroke-width="0.3">from</text>
<text x="366.8" y="1427.6" font-size="18" textLength="36.5" lengthAdjust="spacingAndGlyphs" stroke="#000" stroke-width="0.3">330</text>
<text x="411.5" y="1427.6" font-size="18" textLength="47.3" lengthAdjust="spacingAndGlyphs" stroke="#000" stroke-width="0.3">stool</text>
<text x="463.9" y="1427.6" font-size="18" textLength="77.6" lengthAdjust="spacingAndGlyphs" stroke="#000" stroke-width="0.3">samples</text>
<text x="546.6" y="1427.6" font-size="18" textLength="15" lengthAdjust="spacingAndGlyphs" stroke="#000" stroke-width="0.3">in</text>
<text x="568.6" y="1427.6" font-size="18" textLength="84.1" lengthAdjust="spacingAndGlyphs" stroke="#000" stroke-width="0.3">Cotonou</text>
</svg>
</body>
</html>
